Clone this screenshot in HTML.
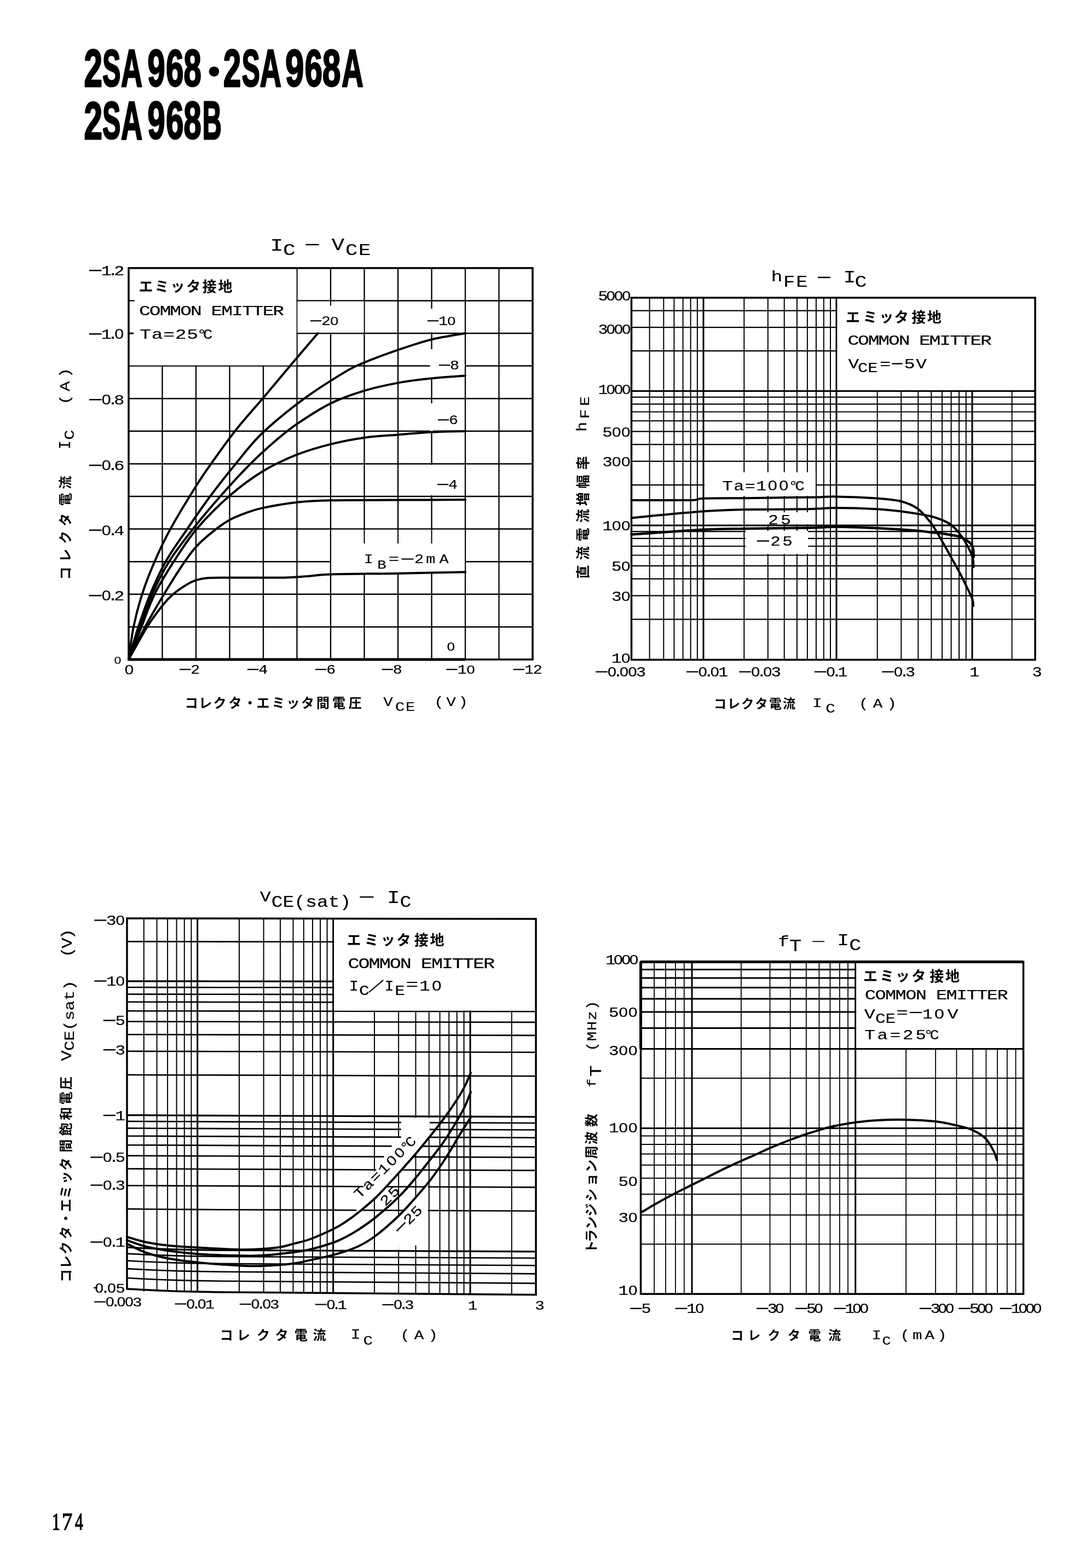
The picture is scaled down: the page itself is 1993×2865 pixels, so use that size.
<!DOCTYPE html>
<html><head><meta charset="utf-8"><title>2SA968</title>
<style>html,body{margin:0;padding:0;background:#fff}svg{display:block;filter:grayscale(1)}text{fill:#000}</style></head>
<body><svg width="1993" height="2865" viewBox="0 0 1993 2865">
<rect width="1993" height="2865" fill="#fff"/>
<text transform="translate(153.4,158.2) scale(0.601,0.958)" font-family="Liberation Sans" font-size="100" font-weight="bold" stroke="#000" stroke-width="2.5" vector-effect="non-scaling-stroke" stroke-linejoin="round">2</text>
<text transform="translate(187.2,157.3) scale(0.495,0.945)" font-family="Liberation Sans" font-size="100" font-weight="bold" stroke="#000" stroke-width="2.5" vector-effect="non-scaling-stroke" stroke-linejoin="round">S</text>
<text transform="translate(221.1,158.2) scale(0.542,0.972)" font-family="Liberation Sans" font-size="100" font-weight="bold" stroke="#000" stroke-width="2.5" vector-effect="non-scaling-stroke" stroke-linejoin="round">A</text>
<text transform="translate(269.5,157.3) scale(0.577,0.945)" font-family="Liberation Sans" font-size="100" font-weight="bold" stroke="#000" stroke-width="2.5" vector-effect="non-scaling-stroke" stroke-linejoin="round">9</text>
<text transform="translate(303.2,157.3) scale(0.578,0.945)" font-family="Liberation Sans" font-size="100" font-weight="bold" stroke="#000" stroke-width="2.5" vector-effect="non-scaling-stroke" stroke-linejoin="round">6</text>
<text transform="translate(335.6,157.3) scale(0.58,0.945)" font-family="Liberation Sans" font-size="100" font-weight="bold" stroke="#000" stroke-width="2.5" vector-effect="non-scaling-stroke" stroke-linejoin="round">8</text>
<text transform="translate(408.1,158.2) scale(0.58,0.958)" font-family="Liberation Sans" font-size="100" font-weight="bold" stroke="#000" stroke-width="2.5" vector-effect="non-scaling-stroke" stroke-linejoin="round">2</text>
<text transform="translate(441.8,157.3) scale(0.495,0.945)" font-family="Liberation Sans" font-size="100" font-weight="bold" stroke="#000" stroke-width="2.5" vector-effect="non-scaling-stroke" stroke-linejoin="round">S</text>
<text transform="translate(474.7,158.2) scale(0.542,0.972)" font-family="Liberation Sans" font-size="100" font-weight="bold" stroke="#000" stroke-width="2.5" vector-effect="non-scaling-stroke" stroke-linejoin="round">A</text>
<text transform="translate(521.3,157.3) scale(0.612,0.945)" font-family="Liberation Sans" font-size="100" font-weight="bold" stroke="#000" stroke-width="2.5" vector-effect="non-scaling-stroke" stroke-linejoin="round">9</text>
<text transform="translate(556.8,157.3) scale(0.578,0.945)" font-family="Liberation Sans" font-size="100" font-weight="bold" stroke="#000" stroke-width="2.5" vector-effect="non-scaling-stroke" stroke-linejoin="round">6</text>
<text transform="translate(589.1,157.3) scale(0.6,0.945)" font-family="Liberation Sans" font-size="100" font-weight="bold" stroke="#000" stroke-width="2.5" vector-effect="non-scaling-stroke" stroke-linejoin="round">8</text>
<text transform="translate(624.2,158.2) scale(0.547,0.972)" font-family="Liberation Sans" font-size="100" font-weight="bold" stroke="#000" stroke-width="2.5" vector-effect="non-scaling-stroke" stroke-linejoin="round">A</text>
<circle cx="391" cy="130.7" r="9.3" fill="#000"/>
<text transform="translate(153.4,253.9) scale(0.601,0.972)" font-family="Liberation Sans" font-size="100" font-weight="bold" stroke="#000" stroke-width="2.5" vector-effect="non-scaling-stroke" stroke-linejoin="round">2</text>
<text transform="translate(187.2,253) scale(0.495,0.959)" font-family="Liberation Sans" font-size="100" font-weight="bold" stroke="#000" stroke-width="2.5" vector-effect="non-scaling-stroke" stroke-linejoin="round">S</text>
<text transform="translate(221.1,253.9) scale(0.542,0.987)" font-family="Liberation Sans" font-size="100" font-weight="bold" stroke="#000" stroke-width="2.5" vector-effect="non-scaling-stroke" stroke-linejoin="round">A</text>
<text transform="translate(269.5,253) scale(0.577,0.959)" font-family="Liberation Sans" font-size="100" font-weight="bold" stroke="#000" stroke-width="2.5" vector-effect="non-scaling-stroke" stroke-linejoin="round">9</text>
<text transform="translate(303.2,253) scale(0.578,0.959)" font-family="Liberation Sans" font-size="100" font-weight="bold" stroke="#000" stroke-width="2.5" vector-effect="non-scaling-stroke" stroke-linejoin="round">6</text>
<text transform="translate(335.6,253) scale(0.58,0.959)" font-family="Liberation Sans" font-size="100" font-weight="bold" stroke="#000" stroke-width="2.5" vector-effect="non-scaling-stroke" stroke-linejoin="round">8</text>
<text transform="translate(369.7,253.9) scale(0.486,0.987)" font-family="Liberation Sans" font-size="100" font-weight="bold" stroke="#000" stroke-width="2.5" vector-effect="non-scaling-stroke" stroke-linejoin="round">B</text>
<text transform="translate(94.8,2795.1) scale(0.304,0.445)" font-family="Liberation Serif" font-size="100" stroke="#000" stroke-width="1.2" vector-effect="non-scaling-stroke" stroke-linejoin="round">1</text>
<text transform="translate(113.1,2795.1) scale(0.387,0.449)" font-family="Liberation Serif" font-size="100" stroke="#000" stroke-width="1.2" vector-effect="non-scaling-stroke" stroke-linejoin="round">7</text>
<text transform="translate(137,2795.1) scale(0.297,0.447)" font-family="Liberation Serif" font-size="100" stroke="#000" stroke-width="1.2" vector-effect="non-scaling-stroke" stroke-linejoin="round">4</text>
<line x1="296.5" y1="489.8" x2="296.5" y2="1205" stroke="#000" stroke-width="2.3"/>
<line x1="235" y1="1145.4" x2="973" y2="1145.4" stroke="#000" stroke-width="2.5"/>
<line x1="358" y1="489.8" x2="358" y2="1205" stroke="#000" stroke-width="2.3"/>
<line x1="235" y1="1085.8" x2="973" y2="1085.8" stroke="#000" stroke-width="2.5"/>
<line x1="419.5" y1="489.8" x2="419.5" y2="1205" stroke="#000" stroke-width="2.3"/>
<line x1="235" y1="1026.2" x2="973" y2="1026.2" stroke="#000" stroke-width="2.5"/>
<line x1="481" y1="489.8" x2="481" y2="1205" stroke="#000" stroke-width="2.3"/>
<line x1="235" y1="966.6" x2="973" y2="966.6" stroke="#000" stroke-width="2.5"/>
<line x1="542.5" y1="489.8" x2="542.5" y2="1205" stroke="#000" stroke-width="2.3"/>
<line x1="235" y1="907" x2="973" y2="907" stroke="#000" stroke-width="2.5"/>
<line x1="604" y1="489.8" x2="604" y2="1205" stroke="#000" stroke-width="2.3"/>
<line x1="235" y1="847.4" x2="973" y2="847.4" stroke="#000" stroke-width="2.5"/>
<line x1="665.5" y1="489.8" x2="665.5" y2="1205" stroke="#000" stroke-width="2.3"/>
<line x1="235" y1="787.8" x2="973" y2="787.8" stroke="#000" stroke-width="2.5"/>
<line x1="727" y1="489.8" x2="727" y2="1205" stroke="#000" stroke-width="2.3"/>
<line x1="235" y1="728.2" x2="973" y2="728.2" stroke="#000" stroke-width="2.5"/>
<line x1="788.5" y1="489.8" x2="788.5" y2="1205" stroke="#000" stroke-width="2.3"/>
<line x1="235" y1="668.6" x2="973" y2="668.6" stroke="#000" stroke-width="2.5"/>
<line x1="850" y1="489.8" x2="850" y2="1205" stroke="#000" stroke-width="2.3"/>
<line x1="235" y1="609" x2="973" y2="609" stroke="#000" stroke-width="2.5"/>
<line x1="911.5" y1="489.8" x2="911.5" y2="1205" stroke="#000" stroke-width="2.3"/>
<line x1="235" y1="549.4" x2="973" y2="549.4" stroke="#000" stroke-width="2.5"/>
<rect x="235" y="489.8" width="306.5" height="177.8" fill="#fff"/>
<rect x="543.5" y="550.6" width="121" height="57.2" fill="#fff"/>
<line x1="604" y1="549.4" x2="604" y2="558.4" stroke="#000" stroke-width="2"/>
<rect x="785.5" y="564" width="6" height="43" fill="#fff"/>
<rect x="785.5" y="638" width="6" height="54" fill="#fff"/>
<rect x="789.5" y="665.6" width="59.5" height="6" fill="#fff"/>
<rect x="785.5" y="737" width="6" height="51" fill="#fff"/>
<rect x="785.5" y="849.4" width="6" height="55.6" fill="#fff"/>
<rect x="605" y="967.8" width="244" height="79.2" fill="#fff"/>
<line x1="665.5" y1="966.6" x2="665.5" y2="993" stroke="#000" stroke-width="2"/>
<line x1="727" y1="966.6" x2="727" y2="993" stroke="#000" stroke-width="2"/>
<line x1="788.5" y1="966.6" x2="788.5" y2="993" stroke="#000" stroke-width="2"/>
<rect x="235" y="489.8" width="738" height="715.2" fill="none" stroke="#000" stroke-width="3.5"/>
<line x1="235" y1="1205" x2="850" y2="1205" stroke="#000" stroke-width="5"/>
<line x1="235" y1="549.4" x2="246" y2="549.4" stroke="#000" stroke-width="2.2"/>
<line x1="235" y1="609" x2="244" y2="609" stroke="#000" stroke-width="3"/>
<path d="M235,1205C236.5,1195.1 239.9,1165.3 244,1145.4C248.1,1125.5 253.2,1105.7 259.6,1085.8C266,1065.9 273.7,1046.1 282.4,1026.2C291,1006.3 298.9,989.2 311.3,966.6C323.7,944 344.2,910.5 356.8,890.3C369.4,870.1 374.6,863 386.9,845.6C399.2,828.2 415.1,805.6 430.6,786C446,766.4 462.5,748.6 479.8,728.2C497,707.8 517.1,683.7 533.9,663.8C550.7,644 572.8,618.1 580.6,609" fill="none" stroke="#000" stroke-width="4" stroke-linecap="round" stroke-linejoin="round"/>
<path d="M235,1205C238,1195.1 246.3,1165.3 252.8,1145.4C259.4,1125.5 266.1,1105.7 274.4,1085.8C282.7,1065.9 291.4,1046.1 302.6,1026.2C313.9,1006.3 328.5,986.5 342,966.6C355.5,946.7 369.1,926.9 383.8,907C398.6,887.1 414.6,866.8 430.6,847.4C446.6,828 458.9,810.6 479.8,790.8C500.7,770.9 531,746.7 556,728.2C581,709.7 611.7,690.9 629.8,679.9C648,669 648.7,669.4 664.9,662.6C681.1,655.9 706.4,646.4 727,639.4C747.6,632.3 768,625.4 788.5,620.3C809,615.3 839.8,610.9 850,609" fill="none" stroke="#000" stroke-width="4" stroke-linecap="round" stroke-linejoin="round"/>
<path d="M235,1205C238.6,1195.1 249.3,1165.3 256.5,1145.4C263.7,1125.5 269.3,1105.7 278.1,1085.8C286.8,1065.9 296.4,1046.1 308.8,1026.2C321.2,1006.3 336.9,986.5 352.5,966.6C368,946.7 385,926.7 402.3,907C419.6,887.3 440.2,865 456.4,848.6C472.6,832.2 485.1,821 499.4,808.7C513.8,796.3 525.1,786.6 542.5,774.7C559.9,762.8 583.5,747.3 604,737.1C624.5,727 645,720.2 665.5,713.9C686,707.6 706.5,703.4 727,699.6C747.5,695.8 768,693.4 788.5,691.2C809,689.1 839.8,687.3 850,686.5" fill="none" stroke="#000" stroke-width="4" stroke-linecap="round" stroke-linejoin="round"/>
<path d="M235,1205C238.9,1195.1 250.5,1165.3 258.4,1145.4C266.3,1125.5 272.5,1105.7 282.4,1085.8C292.2,1065.9 304.6,1046.1 317.4,1026.2C330.2,1006.3 342.2,986.7 359.2,966.6C376.2,946.5 399.2,923.5 419.5,905.8C439.8,888.1 460.5,873 481,860.5C501.5,848 522,838.9 542.5,830.7C563,822.6 583.5,816.8 604,811.6C624.5,806.5 645,802.6 665.5,799.7C686,796.8 706.5,796 727,794.4C747.5,792.7 768,790.7 788.5,789.6C809,788.5 839.8,788.1 850,787.8" fill="none" stroke="#000" stroke-width="4" stroke-linecap="round" stroke-linejoin="round"/>
<path d="M235,1205C240,1195.1 254.4,1165.3 265.1,1145.4C275.9,1125.5 288.2,1104.7 299.6,1085.8C311,1066.9 323.7,1046.6 333.4,1032.2C343.1,1017.8 348.8,1009.5 358,999.4C367.2,989.2 378.5,979.6 388.8,971.4C399,963.1 409.2,955.7 419.5,949.9C429.8,944.2 440,940.5 450.2,936.8C460.5,933.1 465.6,931 481,927.9C496.4,924.7 522,920 542.5,917.7C563,915.4 573.2,914.8 604,914.2C634.8,913.5 686,913.8 727,913.6C768,913.4 829.5,913.1 850,913" fill="none" stroke="#000" stroke-width="4" stroke-linecap="round" stroke-linejoin="round"/>
<path d="M235,1205C240.6,1195.1 258.6,1161.8 268.8,1145.4C279.1,1129 288.6,1116.6 296.5,1106.7C304.4,1096.7 309,1092.1 316.2,1085.8C323.4,1079.5 332.6,1073.4 339.6,1069.1C346.5,1064.8 351.3,1062.4 358,1060.2C364.7,1058 369.3,1056.8 379.5,1056C389.8,1055.2 396.4,1055.5 419.5,1055.4C442.6,1055.3 494.3,1055.8 517.9,1055.4C541.5,1055 546.6,1054 561,1053C575.3,1052 576.3,1050.3 604,1049.4C631.7,1048.5 686,1048.4 727,1047.7C768,1047 829.5,1045.7 850,1045.3" fill="none" stroke="#000" stroke-width="4" stroke-linecap="round" stroke-linejoin="round"/>
<g transform="translate(495,458)"><text transform="scale(1.25,1)" x="8.4" y="0" font-family="Liberation Mono" font-size="31.9" text-anchor="middle" stroke="#000" stroke-width="0.2">I</text></g>
<g transform="translate(517,465.5)"><text transform="scale(1.25,1)" x="9.2" y="0" font-family="Liberation Mono" font-size="30.3" text-anchor="middle" stroke="#000" stroke-width="0.2">C</text></g>
<line x1="558.5" y1="447" x2="582.6" y2="447" stroke="#000" stroke-width="2.4"/>
<g transform="translate(606,457)"><text transform="scale(1.25,1)" x="9.2" y="0" font-family="Liberation Mono" font-size="31.1" text-anchor="middle" stroke="#000" stroke-width="0.2">V</text></g>
<g transform="translate(630,465.5)"><text transform="scale(1.25,1)" x="9.6 28.8" y="0" font-family="Liberation Mono" font-size="29.6" text-anchor="middle" stroke="#000" stroke-width="0.2">CE</text></g>
<g transform="translate(252,536)"><text x="1.5 30.5 59.5 88.5 117.5 146.5" y="-3.1" font-family="'Liberation Sans','Noto Sans CJK JP',sans-serif" font-size="26" font-weight="bold">エミッタ接地</text></g>
<g transform="translate(255,576)"><text transform="scale(1.3,1)" x="7.2 21.7 36.2 50.6 65.1 79.5 108.5 122.9 137.4 151.8 166.3 180.8 195.2" y="0" font-family="Liberation Mono" font-size="26.7" text-anchor="middle" stroke="#000" stroke-width="0.2">COMMONEMITTER</text></g>
<g transform="translate(255,619)"><text transform="scale(1.3,1)" x="8.3 24.8 41.3 57.9 74.4" y="0" font-family="Liberation Mono" font-size="26.7" text-anchor="middle" stroke="#000" stroke-width="0.2">Ta=25</text></g>
<g transform="translate(363,619)"><text transform="scale(1.1,1)" x="5 15" y="0" font-family="Liberation Mono" font-size="26.7" text-anchor="middle" stroke="#000" stroke-width="0.2">°C</text></g>
<g transform="translate(226,503)"><line x1="-63.2" y1="-8.8" x2="-40.4" y2="-8.8" stroke="#000" stroke-width="2.5"/><text transform="scale(1.2,1)" x="-26.4 -16.6 -6.9" y="0" font-family="Liberation Mono" font-size="26.6" text-anchor="middle" stroke="#000" stroke-width="0.2">1.2</text></g>
<g transform="translate(226,619)"><line x1="-63.2" y1="-8.8" x2="-40.4" y2="-8.8" stroke="#000" stroke-width="2.5"/><text transform="scale(1.2,1)" x="-26.4 -16.6" y="0" font-family="Liberation Mono" font-size="26.6" text-anchor="middle" stroke="#000" stroke-width="0.2">1.</text><text transform="scale(1.2,1)" x="-6.9" y="0" font-family="Liberation Sans" font-size="25.4" text-anchor="middle" stroke="#000" stroke-width="0.2">0</text></g>
<g transform="translate(226,739)"><line x1="-63.2" y1="-8.8" x2="-40.4" y2="-8.8" stroke="#000" stroke-width="2.5"/><text transform="scale(1.2,1)" x="-16.6 -6.9" y="0" font-family="Liberation Mono" font-size="26.6" text-anchor="middle" stroke="#000" stroke-width="0.2">.8</text><text transform="scale(1.2,1)" x="-26.4" y="0" font-family="Liberation Sans" font-size="25.4" text-anchor="middle" stroke="#000" stroke-width="0.2">0</text></g>
<g transform="translate(226,859)"><line x1="-63.2" y1="-8.8" x2="-40.4" y2="-8.8" stroke="#000" stroke-width="2.5"/><text transform="scale(1.2,1)" x="-16.6 -6.9" y="0" font-family="Liberation Mono" font-size="26.6" text-anchor="middle" stroke="#000" stroke-width="0.2">.6</text><text transform="scale(1.2,1)" x="-26.4" y="0" font-family="Liberation Sans" font-size="25.4" text-anchor="middle" stroke="#000" stroke-width="0.2">0</text></g>
<g transform="translate(226,977.5)"><line x1="-63.2" y1="-8.8" x2="-40.4" y2="-8.8" stroke="#000" stroke-width="2.5"/><text transform="scale(1.2,1)" x="-16.6 -6.9" y="0" font-family="Liberation Mono" font-size="26.6" text-anchor="middle" stroke="#000" stroke-width="0.2">.4</text><text transform="scale(1.2,1)" x="-26.4" y="0" font-family="Liberation Sans" font-size="25.4" text-anchor="middle" stroke="#000" stroke-width="0.2">0</text></g>
<g transform="translate(226,1097)"><line x1="-63.2" y1="-8.8" x2="-40.4" y2="-8.8" stroke="#000" stroke-width="2.5"/><text transform="scale(1.2,1)" x="-16.6 -6.9" y="0" font-family="Liberation Mono" font-size="26.6" text-anchor="middle" stroke="#000" stroke-width="0.2">.2</text><text transform="scale(1.2,1)" x="-26.4" y="0" font-family="Liberation Sans" font-size="25.4" text-anchor="middle" stroke="#000" stroke-width="0.2">0</text></g>
<g transform="translate(215,1213)"><text transform="scale(1.2,1)" x="0" y="0" font-family="Liberation Sans" font-size="18.8" text-anchor="middle" stroke="#000" stroke-width="0.2">0</text></g>
<g transform="translate(236,1232)"><text transform="scale(1.2,1)" x="0" y="0" font-family="Liberation Sans" font-size="24.6" text-anchor="middle" stroke="#000" stroke-width="0.2">0</text></g>
<g transform="translate(346,1231)"><line x1="-18" y1="-7.8" x2="2.4" y2="-7.8" stroke="#000" stroke-width="2.2"/><text transform="scale(1.2,1)" x="9" y="0" font-family="Liberation Mono" font-size="23.5" text-anchor="middle" stroke="#000" stroke-width="0.2">2</text></g>
<g transform="translate(470,1231)"><line x1="-18" y1="-7.8" x2="2.4" y2="-7.8" stroke="#000" stroke-width="2.2"/><text transform="scale(1.2,1)" x="9" y="0" font-family="Liberation Mono" font-size="23.5" text-anchor="middle" stroke="#000" stroke-width="0.2">4</text></g>
<g transform="translate(594,1231)"><line x1="-18" y1="-7.8" x2="2.4" y2="-7.8" stroke="#000" stroke-width="2.2"/><text transform="scale(1.2,1)" x="9" y="0" font-family="Liberation Mono" font-size="23.5" text-anchor="middle" stroke="#000" stroke-width="0.2">6</text></g>
<g transform="translate(715.5,1231)"><line x1="-18" y1="-7.8" x2="2.4" y2="-7.8" stroke="#000" stroke-width="2.2"/><text transform="scale(1.2,1)" x="9" y="0" font-family="Liberation Mono" font-size="23.5" text-anchor="middle" stroke="#000" stroke-width="0.2">8</text></g>
<g transform="translate(841.3,1231)"><line x1="-26" y1="-7.8" x2="-5.6" y2="-7.8" stroke="#000" stroke-width="2.2"/><text transform="scale(1.2,1)" x="2.4" y="0" font-family="Liberation Mono" font-size="23.5" text-anchor="middle" stroke="#000" stroke-width="0.2">1</text><text transform="scale(1.2,1)" x="15.7" y="0" font-family="Liberation Sans" font-size="22.5" text-anchor="middle" stroke="#000" stroke-width="0.2">0</text></g>
<g transform="translate(963.5,1231)"><line x1="-26" y1="-7.8" x2="-5.6" y2="-7.8" stroke="#000" stroke-width="2.2"/><text transform="scale(1.2,1)" x="2.4 15.7" y="0" font-family="Liberation Mono" font-size="23.5" text-anchor="middle" stroke="#000" stroke-width="0.2">12</text></g>
<g transform="translate(336,1296)"><text x="1.8 27.2 53.5 81.6 108.7 132.4 160.5 187.6 213.9 242 271 300.8" y="-2.9" font-family="'Liberation Sans','Noto Sans CJK JP',sans-serif" font-size="24" font-weight="bold">コレクタ・エミッタ間電圧</text></g>
<g transform="translate(709,1290.3)"><text transform="scale(1.2,1)" x="0" y="0" font-family="Liberation Mono" font-size="24.3" text-anchor="middle" stroke="#000" stroke-width="0.2">V</text></g>
<g transform="translate(721,1299)"><text transform="scale(1.2,1)" x="7.9 23.8" y="0" font-family="Liberation Mono" font-size="23.8" text-anchor="middle" stroke="#000" stroke-width="0.2">CE</text></g>
<g transform="translate(791,1290.3)"><text transform="scale(1.2,1)" x="9.2 27.5 45.8" y="0" font-family="Liberation Mono" font-size="24.3" text-anchor="middle" stroke="#000" stroke-width="0.2">(V)</text></g>
<g transform="translate(131,1060) rotate(-90)"><text x="0.5 33.3 66.3 98.2 135.5 166.3" y="-2.9" font-family="'Liberation Sans','Noto Sans CJK JP',sans-serif" font-size="24" font-weight="bold">コレクタ電流</text></g>
<g transform="translate(128,813) rotate(-90)"><text transform="scale(0.85,1)" x="0" y="0" font-family="Liberation Mono" font-size="30.3" text-anchor="middle" stroke="#000" stroke-width="0.2">I</text></g>
<g transform="translate(134.5,794.4) rotate(-90)"><text transform="scale(1.2,1)" x="0" y="0" font-family="Liberation Mono" font-size="25.8" text-anchor="middle" stroke="#000" stroke-width="0.2">C</text></g>
<g transform="translate(126.5,742.5) rotate(-90)"><text transform="scale(1.2,1)" x="10.2 30.6 51" y="0" font-family="Liberation Mono" font-size="25.8" text-anchor="middle" stroke="#000" stroke-width="0.2">(A)</text></g>
<g transform="translate(566,594)"><line x1="0.9" y1="-7.8" x2="21.2" y2="-7.8" stroke="#000" stroke-width="2.2"/><text transform="scale(1.2,1)" x="24.5" y="0" font-family="Liberation Mono" font-size="23.5" text-anchor="middle" stroke="#000" stroke-width="0.2">2</text><text transform="scale(1.2,1)" x="37.4" y="0" font-family="Liberation Sans" font-size="22.5" text-anchor="middle" stroke="#000" stroke-width="0.2">0</text></g>
<g transform="translate(780,594)"><line x1="0.9" y1="-7.8" x2="21.2" y2="-7.8" stroke="#000" stroke-width="2.2"/><text transform="scale(1.2,1)" x="24.5" y="0" font-family="Liberation Mono" font-size="23.5" text-anchor="middle" stroke="#000" stroke-width="0.2">1</text><text transform="scale(1.2,1)" x="37.4" y="0" font-family="Liberation Sans" font-size="22.5" text-anchor="middle" stroke="#000" stroke-width="0.2">0</text></g>
<g transform="translate(801,675)"><line x1="0.9" y1="-7.8" x2="21.2" y2="-7.8" stroke="#000" stroke-width="2.2"/><text transform="scale(1.2,1)" x="24.5" y="0" font-family="Liberation Mono" font-size="23.5" text-anchor="middle" stroke="#000" stroke-width="0.2">8</text></g>
<g transform="translate(799,775)"><line x1="0.9" y1="-7.8" x2="21.2" y2="-7.8" stroke="#000" stroke-width="2.2"/><text transform="scale(1.2,1)" x="24.5" y="0" font-family="Liberation Mono" font-size="23.5" text-anchor="middle" stroke="#000" stroke-width="0.2">6</text></g>
<g transform="translate(798,893)"><line x1="0.9" y1="-7.8" x2="21.2" y2="-7.8" stroke="#000" stroke-width="2.2"/><text transform="scale(1.2,1)" x="24.5" y="0" font-family="Liberation Mono" font-size="23.5" text-anchor="middle" stroke="#000" stroke-width="0.2">4</text></g>
<g transform="translate(816,1189)"><text transform="scale(1.2,1)" x="6.5" y="0" font-family="Liberation Sans" font-size="21.7" text-anchor="middle" stroke="#000" stroke-width="0.2">0</text></g>
<g transform="translate(673.3,1029.4)"><text transform="scale(1.2,1)" x="0" y="0" font-family="Liberation Mono" font-size="23.7" text-anchor="middle" stroke="#000" stroke-width="0.2">I</text></g>
<g transform="translate(697.5,1038.8)"><text transform="scale(1.2,1)" x="0" y="0" font-family="Liberation Mono" font-size="22.8" text-anchor="middle" stroke="#000" stroke-width="0.2">B</text></g>
<g transform="translate(719.4,1029.4)"><text transform="scale(1.4,1)" x="0" y="0" font-family="Liberation Mono" font-size="23.7" text-anchor="middle" stroke="#000" stroke-width="0.1">=</text></g>
<line x1="733.5" y1="1021.5" x2="755.4" y2="1021.5" stroke="#000" stroke-width="2.2"/>
<g transform="translate(765.6,1029.4)"><text transform="scale(1.2,1)" x="0" y="0" font-family="Liberation Mono" font-size="23.7" text-anchor="middle" stroke="#000" stroke-width="0.2">2</text></g>
<g transform="translate(786.7,1029.4)"><text transform="scale(1.2,1)" x="0" y="0" font-family="Liberation Mono" font-size="23.7" text-anchor="middle" stroke="#000" stroke-width="0.2">m</text></g>
<g transform="translate(811,1029.4)"><text transform="scale(1.2,1)" x="0" y="0" font-family="Liberation Mono" font-size="23.7" text-anchor="middle" stroke="#000" stroke-width="0.2">A</text></g>
<line x1="1186.6" y1="544" x2="1186.6" y2="1205.5" stroke="#000" stroke-width="2"/>
<line x1="1212.3" y1="544" x2="1212.3" y2="1205.5" stroke="#000" stroke-width="2"/>
<line x1="1231.4" y1="544" x2="1231.4" y2="1205.5" stroke="#000" stroke-width="2"/>
<line x1="1247.6" y1="544" x2="1247.6" y2="1205.5" stroke="#000" stroke-width="2"/>
<line x1="1261.6" y1="544" x2="1261.6" y2="1205.5" stroke="#000" stroke-width="2"/>
<line x1="1273.9" y1="544" x2="1273.9" y2="1205.5" stroke="#000" stroke-width="2"/>
<line x1="1285" y1="544" x2="1285" y2="1205.5" stroke="#000" stroke-width="3"/>
<line x1="1359.3" y1="544" x2="1359.3" y2="1205.5" stroke="#000" stroke-width="2"/>
<line x1="1402.8" y1="544" x2="1402.8" y2="1205.5" stroke="#000" stroke-width="2"/>
<line x1="1432.7" y1="544" x2="1432.7" y2="1205.5" stroke="#000" stroke-width="2"/>
<line x1="1455.9" y1="544" x2="1455.9" y2="1205.5" stroke="#000" stroke-width="2"/>
<line x1="1474.9" y1="544" x2="1474.9" y2="1205.5" stroke="#000" stroke-width="2"/>
<line x1="1490.9" y1="544" x2="1490.9" y2="1205.5" stroke="#000" stroke-width="2"/>
<line x1="1504.8" y1="544" x2="1504.8" y2="1205.5" stroke="#000" stroke-width="2"/>
<line x1="1517" y1="544" x2="1517" y2="1205.5" stroke="#000" stroke-width="2"/>
<line x1="1528" y1="544" x2="1528" y2="1205.5" stroke="#000" stroke-width="3"/>
<line x1="1602.7" y1="544" x2="1602.7" y2="1205.5" stroke="#000" stroke-width="2"/>
<line x1="1646.3" y1="544" x2="1646.3" y2="1205.5" stroke="#000" stroke-width="2"/>
<line x1="1677.3" y1="544" x2="1677.3" y2="1205.5" stroke="#000" stroke-width="2"/>
<line x1="1701.3" y1="544" x2="1701.3" y2="1205.5" stroke="#000" stroke-width="2"/>
<line x1="1721" y1="544" x2="1721" y2="1205.5" stroke="#000" stroke-width="2"/>
<line x1="1737.6" y1="544" x2="1737.6" y2="1205.5" stroke="#000" stroke-width="2"/>
<line x1="1752" y1="544" x2="1752" y2="1205.5" stroke="#000" stroke-width="2"/>
<line x1="1764.7" y1="544" x2="1764.7" y2="1205.5" stroke="#000" stroke-width="2"/>
<line x1="1776" y1="544" x2="1776" y2="1205.5" stroke="#000" stroke-width="3"/>
<line x1="1848.6" y1="544" x2="1848.6" y2="1205.5" stroke="#000" stroke-width="2"/>
<line x1="1153.5" y1="1131.6" x2="1891" y2="1131.6" stroke="#000" stroke-width="2.2"/>
<line x1="1153.5" y1="1088.4" x2="1891" y2="1088.4" stroke="#000" stroke-width="2.2"/>
<line x1="1153.5" y1="1057.7" x2="1891" y2="1057.7" stroke="#000" stroke-width="2.2"/>
<line x1="1153.5" y1="1033.9" x2="1891" y2="1033.9" stroke="#000" stroke-width="2.2"/>
<line x1="1153.5" y1="1014.5" x2="1891" y2="1014.5" stroke="#000" stroke-width="2.2"/>
<line x1="1153.5" y1="998" x2="1891" y2="998" stroke="#000" stroke-width="2.2"/>
<line x1="1153.5" y1="983.8" x2="1891" y2="983.8" stroke="#000" stroke-width="2.2"/>
<line x1="1153.5" y1="971.2" x2="1891" y2="971.2" stroke="#000" stroke-width="2.2"/>
<line x1="1153.5" y1="960" x2="1891" y2="960" stroke="#000" stroke-width="3"/>
<line x1="1153.5" y1="886.1" x2="1891" y2="886.1" stroke="#000" stroke-width="2.2"/>
<line x1="1153.5" y1="842.9" x2="1891" y2="842.9" stroke="#000" stroke-width="2.2"/>
<line x1="1153.5" y1="812.2" x2="1891" y2="812.2" stroke="#000" stroke-width="2.2"/>
<line x1="1153.5" y1="788.4" x2="1891" y2="788.4" stroke="#000" stroke-width="2.2"/>
<line x1="1153.5" y1="769" x2="1891" y2="769" stroke="#000" stroke-width="2.2"/>
<line x1="1153.5" y1="752.5" x2="1891" y2="752.5" stroke="#000" stroke-width="2.2"/>
<line x1="1153.5" y1="738.3" x2="1891" y2="738.3" stroke="#000" stroke-width="2.2"/>
<line x1="1153.5" y1="725.7" x2="1891" y2="725.7" stroke="#000" stroke-width="2.2"/>
<line x1="1153.5" y1="714.5" x2="1891" y2="714.5" stroke="#000" stroke-width="3"/>
<line x1="1153.5" y1="641.1" x2="1891" y2="641.1" stroke="#000" stroke-width="2.2"/>
<line x1="1153.5" y1="598.1" x2="1891" y2="598.1" stroke="#000" stroke-width="2.2"/>
<line x1="1153.5" y1="567.6" x2="1891" y2="567.6" stroke="#000" stroke-width="2.2"/>
<rect x="1529.5" y="544" width="361.5" height="169" fill="#fff"/>
<rect x="1287" y="863" width="203" height="43" fill="#fff"/>
<rect x="1362" y="936" width="114" height="22" fill="#fff"/>
<rect x="1362" y="970" width="114" height="42" fill="#fff"/>
<rect x="1153.5" y="544" width="737.5" height="661.5" fill="none" stroke="#000" stroke-width="3.5"/>
<path d="M1153.5,913.9C1171.5,913.9 1239.6,914.4 1261.5,913.9C1283.4,913.4 1268.4,911.4 1285,910.8C1301.6,910.2 1334.7,910.5 1361.1,910.2C1387.4,909.9 1421.6,909.2 1443.1,908.9C1464.6,908.7 1475.9,908.9 1490.1,908.6C1504.2,908.3 1509.3,907.1 1527.8,907.4C1546.3,907.7 1581.7,909.1 1601.3,910.5C1620.8,911.8 1632.6,912.5 1645.1,915.7C1657.7,918.9 1667.3,922.9 1676.6,929.6C1685.9,936.3 1693.5,946.3 1700.7,955.8C1707.9,965.4 1713.7,976.4 1719.8,986.7C1725.9,997 1731.7,1007.8 1737.1,1017.6C1742.6,1027.4 1747.9,1036.6 1752.5,1045.4C1757.2,1054.1 1760.9,1061.8 1764.9,1070.1C1768.9,1078.3 1774.2,1088.6 1776.3,1094.8C1778.5,1101 1777.6,1105.1 1777.9,1107.1" fill="none" stroke="#000" stroke-width="4" stroke-linecap="round" stroke-linejoin="round"/>
<path d="M1153.5,946.2C1175.4,944.2 1250.4,936.8 1285,934.3C1319.6,931.8 1329.5,931.8 1361.1,931.1C1392.6,930.5 1446.6,930.7 1474.4,930.2C1502.2,929.7 1506.6,928.1 1527.8,928.1C1548.9,928.1 1581.7,929.2 1601.3,930.2C1620.8,931.2 1632.6,932.8 1645.1,934.2C1657.7,935.7 1667.3,937.3 1676.6,938.9C1685.9,940.4 1693.5,941.7 1700.7,943.5C1707.9,945.3 1713.7,947.1 1719.8,949.7C1725.9,952.2 1731.7,954.8 1737.1,958.9C1742.6,963 1747.9,968.7 1752.5,974.4C1757.2,980 1760.9,985.7 1764.9,992.9C1768.9,1000.1 1774.1,1010.4 1776.3,1017.6C1778.6,1024.8 1778.1,1033 1778.5,1036.1" fill="none" stroke="#000" stroke-width="4" stroke-linecap="round" stroke-linejoin="round"/>
<path d="M1153.5,976.5C1175.4,975.1 1250.4,969.6 1285,967.8C1319.6,966 1329.5,966.4 1361.1,965.9C1392.6,965.4 1446.6,965.2 1474.4,964.6C1502.2,964.1 1506.6,962.6 1527.8,962.6C1548.9,962.7 1576.5,963.9 1601.3,965.1C1626.1,966.3 1660,968.5 1676.6,969.7C1693.2,971 1693.5,972.1 1700.7,972.8C1707.9,973.6 1713.7,973.6 1719.8,974.4C1725.9,975.1 1731.7,976.4 1737.1,977.5C1742.6,978.5 1747.9,979 1752.5,980.5C1757.2,982.1 1760.9,983.9 1764.9,986.7C1768.9,989.5 1774,992.4 1776.3,997.5C1778.6,1002.7 1778.4,1014.2 1778.8,1017.6" fill="none" stroke="#000" stroke-width="4.5" stroke-linecap="round" stroke-linejoin="round"/>
<g transform="translate(1419,514.4)"><text transform="scale(1.2,1)" x="0" y="0" font-family="Liberation Mono" font-size="28.4" text-anchor="middle" stroke="#000" stroke-width="0.2">h</text></g>
<g transform="translate(1441.6,524.1)"><text transform="scale(1.2,1)" x="0" y="0" font-family="Liberation Mono" font-size="29.3" text-anchor="middle" stroke="#000" stroke-width="0.2">F</text></g>
<g transform="translate(1464.7,524.1)"><text transform="scale(1.2,1)" x="0" y="0" font-family="Liberation Mono" font-size="29.3" text-anchor="middle" stroke="#000" stroke-width="0.2">E</text></g>
<line x1="1494" y1="506.9" x2="1516.7" y2="506.9" stroke="#000" stroke-width="2.6"/>
<g transform="translate(1551.9,515.8)"><text transform="scale(1.2,1)" x="0" y="0" font-family="Liberation Mono" font-size="31.3" text-anchor="middle" stroke="#000" stroke-width="0.2">I</text></g>
<g transform="translate(1572.5,524.1)"><text transform="scale(1.2,1)" x="0" y="0" font-family="Liberation Mono" font-size="30.3" text-anchor="middle" stroke="#000" stroke-width="0.2">C</text></g>
<g transform="translate(1543,592.5)"><text x="2 33.6 63.3 90.7 122.2 150.8" y="-3.1" font-family="'Liberation Sans','Noto Sans CJK JP',sans-serif" font-size="26" font-weight="bold">エミッタ接地</text></g>
<g transform="translate(1549.5,630.4)"><text transform="scale(1.3,1)" x="7.2 21.5 35.9 50.2 64.6 78.9 107.6 121.9 136.3 150.6 165 179.3 193.7" y="0" font-family="Liberation Mono" font-size="26.7" text-anchor="middle" stroke="#000" stroke-width="0.2">COMMONEMITTER</text></g>
<g transform="translate(1559.3,673)"><text transform="scale(1.3,1)" x="0" y="0" font-family="Liberation Mono" font-size="25.2" text-anchor="middle" stroke="#000" stroke-width="0.2">V</text></g>
<g transform="translate(1567,680.4)"><text transform="scale(1.2,1)" x="7.6 22.8" y="0" font-family="Liberation Mono" font-size="25.2" text-anchor="middle" stroke="#000" stroke-width="0.2">CE</text></g>
<g transform="translate(1617,673)"><text transform="scale(1.3,1)" x="0" y="0" font-family="Liberation Mono" font-size="25.8" text-anchor="middle" stroke="#000" stroke-width="0.2">=</text></g>
<line x1="1629.5" y1="664.5" x2="1648.5" y2="664.5" stroke="#000" stroke-width="2.4"/>
<g transform="translate(1661.5,673)"><text transform="scale(1.3,1)" x="0" y="0" font-family="Liberation Mono" font-size="25.8" text-anchor="middle" stroke="#000" stroke-width="0.2">5</text></g>
<g transform="translate(1683,673)"><text transform="scale(1.3,1)" x="0" y="0" font-family="Liberation Mono" font-size="25.2" text-anchor="middle" stroke="#000" stroke-width="0.2">V</text></g>
<g transform="translate(1151.5,548.5)"><text transform="scale(1.2,1)" x="-41.7" y="0" font-family="Liberation Mono" font-size="25" text-anchor="middle" stroke="#000" stroke-width="0.2">5</text><text transform="scale(1.2,1)" x="-29.8 -17.9 -6" y="0" font-family="Liberation Sans" font-size="23.9" text-anchor="middle" stroke="#000" stroke-width="0.2">000</text></g>
<g transform="translate(1151.5,610)"><text transform="scale(1.2,1)" x="-41.7" y="0" font-family="Liberation Mono" font-size="25" text-anchor="middle" stroke="#000" stroke-width="0.2">3</text><text transform="scale(1.2,1)" x="-29.8 -17.9 -6" y="0" font-family="Liberation Sans" font-size="23.9" text-anchor="middle" stroke="#000" stroke-width="0.2">000</text></g>
<g transform="translate(1151.5,720)"><text transform="scale(1.2,1)" x="-41.7" y="0" font-family="Liberation Mono" font-size="25" text-anchor="middle" stroke="#000" stroke-width="0.2">1</text><text transform="scale(1.2,1)" x="-29.8 -17.9 -6" y="0" font-family="Liberation Sans" font-size="23.9" text-anchor="middle" stroke="#000" stroke-width="0.2">000</text></g>
<g transform="translate(1151.5,798)"><text transform="scale(1.2,1)" x="-35" y="0" font-family="Liberation Mono" font-size="25.8" text-anchor="middle" stroke="#000" stroke-width="0.2">5</text><text transform="scale(1.2,1)" x="-21 -7" y="0" font-family="Liberation Sans" font-size="24.6" text-anchor="middle" stroke="#000" stroke-width="0.2">00</text></g>
<g transform="translate(1151.5,852)"><text transform="scale(1.2,1)" x="-35" y="0" font-family="Liberation Mono" font-size="25.8" text-anchor="middle" stroke="#000" stroke-width="0.2">3</text><text transform="scale(1.2,1)" x="-21 -7" y="0" font-family="Liberation Sans" font-size="24.6" text-anchor="middle" stroke="#000" stroke-width="0.2">00</text></g>
<g transform="translate(1151.5,969)"><text transform="scale(1.2,1)" x="-35" y="0" font-family="Liberation Mono" font-size="25.8" text-anchor="middle" stroke="#000" stroke-width="0.2">1</text><text transform="scale(1.2,1)" x="-21 -7" y="0" font-family="Liberation Sans" font-size="24.6" text-anchor="middle" stroke="#000" stroke-width="0.2">00</text></g>
<g transform="translate(1151.5,1043)"><text transform="scale(1.2,1)" x="-21" y="0" font-family="Liberation Mono" font-size="25.8" text-anchor="middle" stroke="#000" stroke-width="0.2">5</text><text transform="scale(1.2,1)" x="-7" y="0" font-family="Liberation Sans" font-size="24.6" text-anchor="middle" stroke="#000" stroke-width="0.2">0</text></g>
<g transform="translate(1151.5,1098)"><text transform="scale(1.2,1)" x="-21" y="0" font-family="Liberation Mono" font-size="25.8" text-anchor="middle" stroke="#000" stroke-width="0.2">3</text><text transform="scale(1.2,1)" x="-7" y="0" font-family="Liberation Sans" font-size="24.6" text-anchor="middle" stroke="#000" stroke-width="0.2">0</text></g>
<g transform="translate(1151.5,1211)"><text transform="scale(1.2,1)" x="-21" y="0" font-family="Liberation Mono" font-size="25.8" text-anchor="middle" stroke="#000" stroke-width="0.2">1</text><text transform="scale(1.2,1)" x="-7" y="0" font-family="Liberation Sans" font-size="24.6" text-anchor="middle" stroke="#000" stroke-width="0.2">0</text></g>
<g transform="translate(1133,1235.7)"><line x1="-44.8" y1="-8.2" x2="-23.2" y2="-8.2" stroke="#000" stroke-width="2.3"/><text transform="scale(1.2,1)" x="-3.4 31.7" y="0" font-family="Liberation Mono" font-size="25" text-anchor="middle" stroke="#000" stroke-width="0.2">.3</text><text transform="scale(1.2,1)" x="-12.5 5.8 18.7" y="0" font-family="Liberation Sans" font-size="23.9" text-anchor="middle" stroke="#000" stroke-width="0.2">000</text></g>
<g transform="translate(1291,1235.7)"><line x1="-37.1" y1="-8.2" x2="-15.5" y2="-8.2" stroke="#000" stroke-width="2.3"/><text transform="scale(1.2,1)" x="3.1 25.2" y="0" font-family="Liberation Mono" font-size="25" text-anchor="middle" stroke="#000" stroke-width="0.2">.1</text><text transform="scale(1.2,1)" x="-6.1 12.3" y="0" font-family="Liberation Sans" font-size="23.9" text-anchor="middle" stroke="#000" stroke-width="0.2">00</text></g>
<g transform="translate(1387.5,1235.7)"><line x1="-37.1" y1="-8.2" x2="-15.5" y2="-8.2" stroke="#000" stroke-width="2.3"/><text transform="scale(1.2,1)" x="3.1 25.2" y="0" font-family="Liberation Mono" font-size="25" text-anchor="middle" stroke="#000" stroke-width="0.2">.3</text><text transform="scale(1.2,1)" x="-6.1 12.3" y="0" font-family="Liberation Sans" font-size="23.9" text-anchor="middle" stroke="#000" stroke-width="0.2">00</text></g>
<g transform="translate(1517,1235.7)"><line x1="-29.3" y1="-8.2" x2="-7.7" y2="-8.2" stroke="#000" stroke-width="2.3"/><text transform="scale(1.2,1)" x="9.6 18.7" y="0" font-family="Liberation Mono" font-size="25" text-anchor="middle" stroke="#000" stroke-width="0.2">.1</text><text transform="scale(1.2,1)" x="0.4" y="0" font-family="Liberation Sans" font-size="23.9" text-anchor="middle" stroke="#000" stroke-width="0.2">0</text></g>
<g transform="translate(1640.5,1235.7)"><line x1="-29.3" y1="-8.2" x2="-7.7" y2="-8.2" stroke="#000" stroke-width="2.3"/><text transform="scale(1.2,1)" x="9.6 18.7" y="0" font-family="Liberation Mono" font-size="25" text-anchor="middle" stroke="#000" stroke-width="0.2">.3</text><text transform="scale(1.2,1)" x="0.4" y="0" font-family="Liberation Sans" font-size="23.9" text-anchor="middle" stroke="#000" stroke-width="0.2">0</text></g>
<g transform="translate(1780,1235.7)"><text transform="scale(1.2,1)" x="0" y="0" font-family="Liberation Mono" font-size="25" text-anchor="middle" stroke="#000" stroke-width="0.2">1</text></g>
<g transform="translate(1894.5,1235.7)"><text transform="scale(1.2,1)" x="0" y="0" font-family="Liberation Mono" font-size="25" text-anchor="middle" stroke="#000" stroke-width="0.2">3</text></g>
<g transform="translate(1300,1297)"><text x="3.9 29.1 54.3 79.5 104.7 129.9" y="-2.8" font-family="'Liberation Sans','Noto Sans CJK JP',sans-serif" font-size="23" font-weight="bold">コレクタ電流</text></g>
<g transform="translate(1492.8,1292)"><text transform="scale(1.2,1)" x="0" y="0" font-family="Liberation Mono" font-size="24.3" text-anchor="middle" stroke="#000" stroke-width="0.2">I</text></g>
<g transform="translate(1517,1302.4)"><text transform="scale(1.2,1)" x="0" y="0" font-family="Liberation Mono" font-size="24.3" text-anchor="middle" stroke="#000" stroke-width="0.2">C</text></g>
<g transform="translate(1565,1293)"><text transform="scale(1.2,1)" x="10.7 32 53.3" y="0" font-family="Liberation Mono" font-size="24.3" text-anchor="middle" stroke="#000" stroke-width="0.2">(A)</text></g>
<g transform="translate(1077,1060) rotate(-90)"><text x="2.6 36.7 70.7 104.8 135.7 167.6 201.7" y="-3" font-family="'Liberation Sans','Noto Sans CJK JP',sans-serif" font-size="25" font-weight="bold">直流電流増幅率</text></g>
<g transform="translate(1071,779.8) rotate(-90)"><text transform="scale(1.2,1)" x="0" y="0" font-family="Liberation Mono" font-size="24.9" text-anchor="middle" stroke="#000" stroke-width="0.2">h</text></g>
<g transform="translate(1076.4,756.4) rotate(-90)"><text transform="scale(1.2,1)" x="0" y="0" font-family="Liberation Mono" font-size="24.3" text-anchor="middle" stroke="#000" stroke-width="0.2">F</text></g>
<g transform="translate(1076.4,733) rotate(-90)"><text transform="scale(1.2,1)" x="0" y="0" font-family="Liberation Mono" font-size="24.3" text-anchor="middle" stroke="#000" stroke-width="0.2">E</text></g>
<g transform="translate(1319,896)"><text transform="scale(1.2,1)" x="8.5 25.6 42.7 59.8" y="0" font-family="Liberation Mono" font-size="26.6" text-anchor="middle" stroke="#000" stroke-width="0.2">Ta=1</text><text transform="scale(1.2,1)" x="76.9 94" y="0" font-family="Liberation Sans" font-size="25.4" text-anchor="middle" stroke="#000" stroke-width="0.2">00</text></g>
<g transform="translate(1443,896)"><text transform="scale(1.1,1)" x="5.5 16.4" y="0" font-family="Liberation Mono" font-size="26.6" text-anchor="middle" stroke="#000" stroke-width="0.2">°C</text></g>
<g transform="translate(1401,958)"><text transform="scale(1.2,1)" x="9.6 28.8" y="0" font-family="Liberation Mono" font-size="25.8" text-anchor="middle" stroke="#000" stroke-width="0.2">25</text></g>
<g transform="translate(1382,997)"><line x1="0.9" y1="-8.5" x2="23.1" y2="-8.5" stroke="#000" stroke-width="2.4"/><text transform="scale(1.2,1)" x="28.8 47.2" y="0" font-family="Liberation Mono" font-size="25.8" text-anchor="middle" stroke="#000" stroke-width="0.2">25</text></g>
<line x1="262.8" y1="1678" x2="262.8" y2="2359.8" stroke="#000" stroke-width="2"/>
<line x1="286.6" y1="1678.1" x2="286.6" y2="2360" stroke="#000" stroke-width="2"/>
<line x1="306.1" y1="1678.1" x2="306.1" y2="2360.1" stroke="#000" stroke-width="2"/>
<line x1="322.6" y1="1678.1" x2="322.6" y2="2360.3" stroke="#000" stroke-width="2"/>
<line x1="336.8" y1="1678.1" x2="336.8" y2="2360.4" stroke="#000" stroke-width="2"/>
<line x1="349.4" y1="1678.2" x2="349.4" y2="2360.5" stroke="#000" stroke-width="2"/>
<line x1="360.7" y1="1678.2" x2="360.7" y2="2360.6" stroke="#000" stroke-width="3"/>
<line x1="437" y1="1678.3" x2="437" y2="2361.2" stroke="#000" stroke-width="2"/>
<line x1="481.6" y1="1678.3" x2="481.6" y2="2361.6" stroke="#000" stroke-width="2"/>
<line x1="512" y1="1678.4" x2="512" y2="2361.8" stroke="#000" stroke-width="2"/>
<line x1="535.5" y1="1678.4" x2="535.5" y2="2362" stroke="#000" stroke-width="2"/>
<line x1="554.8" y1="1678.4" x2="554.8" y2="2362.2" stroke="#000" stroke-width="2"/>
<line x1="571" y1="1678.5" x2="571" y2="2362.3" stroke="#000" stroke-width="2"/>
<line x1="585.1" y1="1678.5" x2="585.1" y2="2362.4" stroke="#000" stroke-width="2"/>
<line x1="597.6" y1="1678.5" x2="597.6" y2="2362.5" stroke="#000" stroke-width="2"/>
<line x1="608.7" y1="1678.5" x2="608.7" y2="2362.6" stroke="#000" stroke-width="3"/>
<line x1="684" y1="1678.6" x2="684" y2="2363.3" stroke="#000" stroke-width="2"/>
<line x1="728.1" y1="1678.7" x2="728.1" y2="2363.6" stroke="#000" stroke-width="2"/>
<line x1="759.4" y1="1678.7" x2="759.4" y2="2363.9" stroke="#000" stroke-width="2"/>
<line x1="783.7" y1="1678.7" x2="783.7" y2="2364.1" stroke="#000" stroke-width="2"/>
<line x1="803.5" y1="1678.8" x2="803.5" y2="2364.2" stroke="#000" stroke-width="2"/>
<line x1="820.2" y1="1678.8" x2="820.2" y2="2364.4" stroke="#000" stroke-width="2"/>
<line x1="834.7" y1="1678.8" x2="834.7" y2="2364.5" stroke="#000" stroke-width="2"/>
<line x1="847.5" y1="1678.8" x2="847.5" y2="2364.6" stroke="#000" stroke-width="2"/>
<line x1="859" y1="1678.8" x2="859" y2="2364.7" stroke="#000" stroke-width="3"/>
<line x1="934.7" y1="1678.9" x2="934.7" y2="2365.3" stroke="#000" stroke-width="2"/>
<polyline fill="none" stroke="#000" stroke-width="2.6" points="232,2335 260,2336.6 290,2338 320,2339.1 350,2339.9 402,2340.7 979,2344.9"/>
<polyline fill="none" stroke="#000" stroke-width="2.6" points="232,2318.1 260,2319.6 290,2321 320,2322.1 350,2322.9 402,2323.7 979,2327.4"/>
<polyline fill="none" stroke="#000" stroke-width="2.6" points="232,2303.5 260,2305 290,2306.3 320,2307.4 350,2308.2 402,2308.9 979,2312.2"/>
<polyline fill="none" stroke="#000" stroke-width="2.6" points="232,2290.6 260,2292.1 290,2293.4 320,2294.4 350,2295.2 402,2295.9 979,2298.8"/>
<polyline fill="none" stroke="#000" stroke-width="3.2" points="232,2279 260,2280.5 290,2281.8 320,2282.8 350,2283.6 402,2284.3 979,2286.8"/>
<polyline fill="none" stroke="#000" stroke-width="2.6" points="232,2208.9 260,2209.2 290,2209.5 320,2209.7 350,2209.9 402,2210.2 979,2212.7"/>
<polyline fill="none" stroke="#000" stroke-width="2.6" points="232,2166.2 260,2166.3 290,2166.4 320,2166.6 350,2166.7 402,2166.9 979,2169.4"/>
<polyline fill="none" stroke="#000" stroke-width="2.6" points="232,2135.5 260,2135.6 290,2135.7 320,2135.8 350,2136 402,2136.2 979,2138.6"/>
<polyline fill="none" stroke="#000" stroke-width="2.6" points="232,2111.6 260,2111.7 290,2111.9 320,2112 350,2112.1 402,2112.3 979,2114.8"/>
<polyline fill="none" stroke="#000" stroke-width="2.6" points="232,2092.2 260,2092.3 290,2092.4 320,2092.5 350,2092.6 402,2092.9 979,2095.3"/>
<polyline fill="none" stroke="#000" stroke-width="2.6" points="232,2075.7 260,2075.8 290,2075.9 320,2076.1 350,2076.2 402,2076.4 979,2078.8"/>
<polyline fill="none" stroke="#000" stroke-width="2.6" points="232,2061.4 260,2061.5 290,2061.7 320,2061.8 350,2061.9 402,2062.1 979,2064.5"/>
<polyline fill="none" stroke="#000" stroke-width="2.6" points="232,2048.9 260,2049 290,2049.1 320,2049.2 350,2049.3 402,2049.6 979,2052"/>
<polyline fill="none" stroke="#000" stroke-width="3.2" points="232,2037.6 260,2037.7 290,2037.8 320,2038 350,2038.1 402,2038.3 979,2040.7"/>
<polyline fill="none" stroke="#000" stroke-width="2.6" points="232,1963.9 260,1964 290,1964.1 320,1964.2 350,1964.3 402,1964.4 979,1966.3"/>
<polyline fill="none" stroke="#000" stroke-width="2.6" points="232,1920.8 260,1920.9 290,1921 320,1921 350,1921.1 402,1921.2 979,1922.8"/>
<polyline fill="none" stroke="#000" stroke-width="2.6" points="232,1890.2 260,1890.3 290,1890.3 320,1890.4 350,1890.5 402,1890.6 979,1891.9"/>
<polyline fill="none" stroke="#000" stroke-width="2.6" points="232,1866.5 260,1866.5 290,1866.6 320,1866.7 350,1866.7 402,1866.8 979,1867.9"/>
<polyline fill="none" stroke="#000" stroke-width="2.6" points="232,1847.1 260,1847.2 290,1847.2 320,1847.3 350,1847.3 402,1847.4 979,1848.3"/>
<polyline fill="none" stroke="#000" stroke-width="2.6" points="232,1830.7 260,1830.8 290,1830.8 320,1830.8 350,1830.9 402,1831 979,1831.8"/>
<polyline fill="none" stroke="#000" stroke-width="2.6" points="232,1816.5 260,1816.6 290,1816.6 320,1816.6 350,1816.7 402,1816.7 979,1817.5"/>
<polyline fill="none" stroke="#000" stroke-width="2.6" points="232,1804 260,1804 290,1804.1 320,1804.1 350,1804.1 402,1804.2 979,1804.8"/>
<polyline fill="none" stroke="#000" stroke-width="3.2" points="232,1792.8 260,1792.8 290,1792.9 320,1792.9 350,1792.9 402,1793 979,1793.5"/>
<polyline fill="none" stroke="#000" stroke-width="2.6" points="232,1720.4 260,1720.4 290,1720.4 320,1720.5 350,1720.5 402,1720.6 979,1721.3"/>
<rect x="610.2" y="1678" width="368.8" height="168.5" fill="#fff"/>
<polygon fill="#fff" points="629.5,2170 663.9,2170 663.9,2140.3 687.4,2140.3 687.4,2116.8 701.5,2116.8 701.5,2096.4 715.6,2096.4 715.6,2079.2 732.8,2079.2 732.8,2042.6 784.8,2042.6 784.8,2075.1 763.5,2103.3 730.6,2140.9 686.8,2187.9 653.9,2216"/>
<polygon fill="#fff" points="733.1,2216.7 763.5,2183.2 781.7,2161.2 781.7,2264.6 765.1,2264.6 765.1,2275.5 729.1,2275.5 729.1,2283.3 688.4,2283.3 688.4,2262.4"/>
<polygon points="232,1678 979,1679 979,2365.7 402,2360.9 350,2360.1 320,2359.2 290,2358 260,2356.6 232,2355" fill="none" stroke="#000" stroke-width="3.5"/>
<path d="M231.8,2259.9C237.3,2261.5 252.4,2266.7 264.6,2269.3C276.9,2271.9 289.1,2273.8 305.3,2275.5C321.5,2277.2 339.5,2278.3 361.7,2279.6C383.9,2280.9 418.6,2282.9 438.4,2283.3C458.2,2283.7 468.4,2282.6 480.7,2281.8C493,2281 502.6,2280.2 512,2278.6C521.4,2277 527.6,2274.9 537,2272.4C546.4,2269.9 556.1,2268.1 568.3,2263.5C580.5,2258.9 599.5,2250.2 610.1,2245C620.7,2239.8 624.7,2236.8 632,2232C639.3,2227.2 644.8,2223.4 653.9,2216C663,2208.6 674,2200.3 686.8,2187.8C699.6,2175.3 717.8,2155 730.6,2140.9C743.4,2126.8 754.1,2114.4 763.5,2103.3C772.9,2092.2 779.7,2083.6 787,2074.5C794.3,2065.4 801.3,2056.5 807.3,2048.5C813.3,2040.5 817.8,2034.2 823,2026.6C828.2,2019 834.2,2010.3 838.7,2003C843.2,1995.7 846.5,1990.2 850,1983C853.5,1975.8 858.3,1963.8 860,1960" fill="none" stroke="#000" stroke-width="4" stroke-linecap="round" stroke-linejoin="round"/>
<path d="M231.8,2266.1C237.3,2267.9 252.4,2274 264.6,2277.1C276.9,2280.2 289.1,2282.6 305.3,2284.9C321.5,2287.2 339.5,2289.6 361.7,2291.2C383.9,2292.8 418.6,2293.9 438.4,2294.3C458.2,2294.7 464.3,2294.8 480.7,2293.7C497.1,2292.6 522.4,2289.9 537,2288C551.6,2286.1 556.1,2285.5 568.3,2282.5C580.5,2279.5 599.5,2273.8 610.1,2270C620.7,2266.2 624.7,2263.8 632,2260C639.3,2256.2 644.8,2253.3 653.9,2247.3C663,2241.3 674,2234.3 686.8,2223.9C699.6,2213.5 717.8,2197.5 730.6,2184.7C743.4,2171.9 754.1,2158.4 763.5,2147.2C772.9,2136 779.7,2126.8 787,2117.4C794.3,2108 801.3,2099.2 807.3,2090.8C813.3,2082.5 817.8,2075.6 823,2067.3C828.2,2059 834.2,2048.9 838.7,2041C843.2,2033.1 846.5,2027.7 850,2020C853.5,2012.3 858.3,1999.2 860,1995" fill="none" stroke="#000" stroke-width="4" stroke-linecap="round" stroke-linejoin="round"/>
<path d="M231.8,2272.4C237.3,2275 252.4,2283.6 264.6,2288C276.9,2292.4 289.1,2295.9 305.3,2299C321.5,2302.1 339.5,2304.6 361.7,2306.8C383.9,2309.1 418.6,2311.4 438.4,2312.5C458.2,2313.6 464.3,2313.8 480.7,2313.1C497.1,2312.4 522.4,2310.2 537,2308.4C551.6,2306.6 556.1,2304.7 568.3,2302.1C580.5,2299.5 595.8,2296.8 610.1,2292.7C624.4,2288.6 641.1,2283.4 653.9,2277.5C666.7,2271.6 674,2267.2 686.8,2257.5C699.6,2247.8 717.8,2231.6 730.6,2219.2C743.4,2206.8 754.1,2193.9 763.5,2183.2C772.9,2172.5 779.7,2164.4 787,2155C794.3,2145.6 801.3,2135.4 807.3,2126.5C813.3,2117.6 817.8,2110.4 823,2101.8C828.2,2093.2 832.4,2085.4 838.7,2075.1C845,2064.8 857.3,2045.8 861,2040" fill="none" stroke="#000" stroke-width="4" stroke-linecap="round" stroke-linejoin="round"/>
<g transform="translate(484.9,1646.6)"><text transform="scale(1.2,1)" x="0" y="0" font-family="Liberation Mono" font-size="27.3" text-anchor="middle" stroke="#000" stroke-width="0.2">V</text></g>
<g transform="translate(495.7,1657)"><text transform="scale(1.2,1)" x="8.7 26 43.3 60.7 78 95.3 112.7" y="0" font-family="Liberation Mono" font-size="28.8" text-anchor="middle" stroke="#000" stroke-width="0.2">CE(sat)</text></g>
<line x1="657.3" y1="1639" x2="682.6" y2="1639" stroke="#000" stroke-width="2.4"/>
<g transform="translate(718.7,1650.4)"><text transform="scale(1.2,1)" x="0" y="0" font-family="Liberation Mono" font-size="32.6" text-anchor="middle" stroke="#000" stroke-width="0.2">I</text></g>
<g transform="translate(740.8,1657)"><text transform="scale(1.2,1)" x="0" y="0" font-family="Liberation Mono" font-size="28.8" text-anchor="middle" stroke="#000" stroke-width="0.2">C</text></g>
<g transform="translate(631,1730)"><text x="2.4 34.8 64.7 93.4 125.7 154.4" y="-3.1" font-family="'Liberation Sans','Noto Sans CJK JP',sans-serif" font-size="26" font-weight="bold">エミッタ接地</text></g>
<g transform="translate(636.5,1769)"><text transform="scale(1.3,1)" x="7.3 22 36.6 51.3 65.9 80.6 109.9 124.6 139.2 153.9 168.5 183.2 197.8" y="0" font-family="Liberation Mono" font-size="27" text-anchor="middle" stroke="#000" stroke-width="0.2">COMMONEMITTER</text></g>
<g transform="translate(646.4,1810.4)"><text transform="scale(1.0,1)" x="0" y="0" font-family="Liberation Mono" font-size="27.9" text-anchor="middle" stroke="#000" stroke-width="0.2">I</text></g>
<g transform="translate(665.4,1817.7)"><text transform="scale(1.2,1)" x="0" y="0" font-family="Liberation Mono" font-size="25.8" text-anchor="middle" stroke="#000" stroke-width="0.2">C</text></g>
<line x1="674" y1="1813" x2="700" y2="1790.8" stroke="#000" stroke-width="2.2"/>
<g transform="translate(711.1,1810.4)"><text transform="scale(1.0,1)" x="0" y="0" font-family="Liberation Mono" font-size="27.9" text-anchor="middle" stroke="#000" stroke-width="0.2">I</text></g>
<g transform="translate(730.6,1817.7)"><text transform="scale(1.2,1)" x="0" y="0" font-family="Liberation Mono" font-size="25.8" text-anchor="middle" stroke="#000" stroke-width="0.2">E</text></g>
<g transform="translate(752.7,1808)"><text transform="scale(1.4,1)" x="0" y="0" font-family="Liberation Mono" font-size="27.3" text-anchor="middle" stroke="#000" stroke-width="0.1">=</text></g>
<g transform="translate(775.8,1810.4)"><text transform="scale(1.2,1)" x="0" y="0" font-family="Liberation Mono" font-size="27.3" text-anchor="middle" stroke="#000" stroke-width="0.2">1</text></g>
<g transform="translate(797.8,1810.4)"><text transform="scale(1.2,1)" x="0" y="0" font-family="Liberation Sans" font-size="26.1" text-anchor="middle" stroke="#000" stroke-width="0.2">0</text></g>
<g transform="translate(228,1690)"><line x1="-55.7" y1="-8.5" x2="-33.5" y2="-8.5" stroke="#000" stroke-width="2.4"/><text transform="scale(1.2,1)" x="-20.6" y="0" font-family="Liberation Mono" font-size="25.8" text-anchor="middle" stroke="#000" stroke-width="0.2">3</text><text transform="scale(1.2,1)" x="-6.9" y="0" font-family="Liberation Sans" font-size="24.6" text-anchor="middle" stroke="#000" stroke-width="0.2">0</text></g>
<g transform="translate(228,1801)"><line x1="-55.7" y1="-8.5" x2="-33.5" y2="-8.5" stroke="#000" stroke-width="2.4"/><text transform="scale(1.2,1)" x="-20.6" y="0" font-family="Liberation Mono" font-size="25.8" text-anchor="middle" stroke="#000" stroke-width="0.2">1</text><text transform="scale(1.2,1)" x="-6.9" y="0" font-family="Liberation Sans" font-size="24.6" text-anchor="middle" stroke="#000" stroke-width="0.2">0</text></g>
<g transform="translate(228,1873)"><line x1="-39.2" y1="-8.5" x2="-17" y2="-8.5" stroke="#000" stroke-width="2.4"/><text transform="scale(1.2,1)" x="-6.9" y="0" font-family="Liberation Mono" font-size="25.8" text-anchor="middle" stroke="#000" stroke-width="0.2">5</text></g>
<g transform="translate(228,1926.7)"><line x1="-39.2" y1="-8.5" x2="-17" y2="-8.5" stroke="#000" stroke-width="2.4"/><text transform="scale(1.2,1)" x="-6.9" y="0" font-family="Liberation Mono" font-size="25.8" text-anchor="middle" stroke="#000" stroke-width="0.2">3</text></g>
<g transform="translate(228,2046.5)"><line x1="-39.2" y1="-8.5" x2="-17" y2="-8.5" stroke="#000" stroke-width="2.4"/><text transform="scale(1.2,1)" x="-6.9" y="0" font-family="Liberation Mono" font-size="25.8" text-anchor="middle" stroke="#000" stroke-width="0.2">1</text></g>
<g transform="translate(228,2123)"><line x1="-62.6" y1="-8.5" x2="-40.4" y2="-8.5" stroke="#000" stroke-width="2.4"/><text transform="scale(1.2,1)" x="-16.6 -6.9" y="0" font-family="Liberation Mono" font-size="25.8" text-anchor="middle" stroke="#000" stroke-width="0.2">.5</text><text transform="scale(1.2,1)" x="-26.4" y="0" font-family="Liberation Sans" font-size="24.6" text-anchor="middle" stroke="#000" stroke-width="0.2">0</text></g>
<g transform="translate(228,2174)"><line x1="-62.6" y1="-8.5" x2="-40.4" y2="-8.5" stroke="#000" stroke-width="2.4"/><text transform="scale(1.2,1)" x="-16.6 -6.9" y="0" font-family="Liberation Mono" font-size="25.8" text-anchor="middle" stroke="#000" stroke-width="0.2">.3</text><text transform="scale(1.2,1)" x="-26.4" y="0" font-family="Liberation Sans" font-size="24.6" text-anchor="middle" stroke="#000" stroke-width="0.2">0</text></g>
<g transform="translate(228,2278)"><line x1="-62.6" y1="-8.5" x2="-40.4" y2="-8.5" stroke="#000" stroke-width="2.4"/><text transform="scale(1.2,1)" x="-16.6 -6.9" y="0" font-family="Liberation Mono" font-size="25.8" text-anchor="middle" stroke="#000" stroke-width="0.2">.1</text><text transform="scale(1.2,1)" x="-26.4" y="0" font-family="Liberation Sans" font-size="24.6" text-anchor="middle" stroke="#000" stroke-width="0.2">0</text></g>
<g transform="translate(228,2362.3)"><text transform="scale(1.2,1)" x="-29.5 -6.7" y="0" font-family="Liberation Mono" font-size="24.3" text-anchor="middle" stroke="#000" stroke-width="0.2">.5</text><text transform="scale(1.2,1)" x="-38.9 -20" y="0" font-family="Liberation Sans" font-size="23.2" text-anchor="middle" stroke="#000" stroke-width="0.2">00</text></g>
<line x1="171" y1="2353" x2="178" y2="2353" stroke="#000" stroke-width="2"/>
<g transform="translate(214.6,2386.7)"><line x1="-42.5" y1="-8" x2="-21.6" y2="-8" stroke="#000" stroke-width="2.2"/><text transform="scale(1.2,1)" x="-2.9 30.1" y="0" font-family="Liberation Mono" font-size="24.3" text-anchor="middle" stroke="#000" stroke-width="0.2">.3</text><text transform="scale(1.2,1)" x="-11.5 5.8 17.9" y="0" font-family="Liberation Sans" font-size="23.2" text-anchor="middle" stroke="#000" stroke-width="0.2">000</text></g>
<g transform="translate(354.6,2390.5)"><line x1="-35.2" y1="-8" x2="-14.3" y2="-8" stroke="#000" stroke-width="2.2"/><text transform="scale(1.2,1)" x="3.2 24" y="0" font-family="Liberation Mono" font-size="24.3" text-anchor="middle" stroke="#000" stroke-width="0.2">.1</text><text transform="scale(1.2,1)" x="-5.4 11.8" y="0" font-family="Liberation Sans" font-size="23.2" text-anchor="middle" stroke="#000" stroke-width="0.2">00</text></g>
<g transform="translate(473,2391)"><line x1="-35.2" y1="-8" x2="-14.3" y2="-8" stroke="#000" stroke-width="2.2"/><text transform="scale(1.2,1)" x="3.2 24" y="0" font-family="Liberation Mono" font-size="24.3" text-anchor="middle" stroke="#000" stroke-width="0.2">.3</text><text transform="scale(1.2,1)" x="-5.4 11.8" y="0" font-family="Liberation Sans" font-size="23.2" text-anchor="middle" stroke="#000" stroke-width="0.2">00</text></g>
<g transform="translate(603.7,2391.5)"><line x1="-27.9" y1="-8" x2="-7" y2="-8" stroke="#000" stroke-width="2.2"/><text transform="scale(1.2,1)" x="9.3 17.9" y="0" font-family="Liberation Mono" font-size="24.3" text-anchor="middle" stroke="#000" stroke-width="0.2">.1</text><text transform="scale(1.2,1)" x="0.7" y="0" font-family="Liberation Sans" font-size="23.2" text-anchor="middle" stroke="#000" stroke-width="0.2">0</text></g>
<g transform="translate(726.2,2392)"><line x1="-27.9" y1="-8" x2="-7" y2="-8" stroke="#000" stroke-width="2.2"/><text transform="scale(1.2,1)" x="9.3 17.9" y="0" font-family="Liberation Mono" font-size="24.3" text-anchor="middle" stroke="#000" stroke-width="0.2">.3</text><text transform="scale(1.2,1)" x="0.7" y="0" font-family="Liberation Sans" font-size="23.2" text-anchor="middle" stroke="#000" stroke-width="0.2">0</text></g>
<g transform="translate(863.6,2392.5)"><text transform="scale(1.2,1)" x="0" y="0" font-family="Liberation Mono" font-size="24.3" text-anchor="middle" stroke="#000" stroke-width="0.2">1</text></g>
<g transform="translate(986,2393)"><text transform="scale(1.2,1)" x="0" y="0" font-family="Liberation Mono" font-size="24.3" text-anchor="middle" stroke="#000" stroke-width="0.2">3</text></g>
<g transform="translate(400,2451)"><text x="1.8 32.8 69 102.8 137.8 171.5" y="-2.9" font-family="'Liberation Sans','Noto Sans CJK JP',sans-serif" font-size="24" font-weight="bold">コレクタ電流</text></g>
<g transform="translate(649.5,2446)"><text transform="scale(1.2,1)" x="0" y="0" font-family="Liberation Mono" font-size="25.8" text-anchor="middle" stroke="#000" stroke-width="0.2">I</text></g>
<g transform="translate(672.3,2457)"><text transform="scale(1.2,1)" x="0" y="0" font-family="Liberation Mono" font-size="24.3" text-anchor="middle" stroke="#000" stroke-width="0.2">C</text></g>
<g transform="translate(727.3,2447)"><text transform="scale(1.2,1)" x="10.6 31.9 53.1" y="0" font-family="Liberation Mono" font-size="24.3" text-anchor="middle" stroke="#000" stroke-width="0.2">(A)</text></g>
<g transform="translate(132,2352) rotate(-90)"><text x="9.1 34.1 59.7 87.5 114 137.4 162 188.2 213.1 246.2 276.5 305.2 333.5 361.1" y="-2.9" font-family="'Liberation Sans','Noto Sans CJK JP',sans-serif" font-size="24" font-weight="bold">コレクタ・エミッタ間飽和電圧</text></g>
<g transform="translate(130.3,1929) rotate(-90)"><text transform="scale(1.2,1)" x="0" y="0" font-family="Liberation Mono" font-size="27.3" text-anchor="middle" stroke="#000" stroke-width="0.2">V</text></g>
<g transform="translate(134.5,1920) rotate(-90)"><text transform="scale(1.2,1)" x="7.7 23 38.3 53.7 69 84.3 99.7" y="0" font-family="Liberation Mono" font-size="25.8" text-anchor="middle" stroke="#000" stroke-width="0.2">CE(sat)</text></g>
<g transform="translate(131.3,1748) rotate(-90)"><text transform="scale(1.2,1)" x="6.9 20.6 34.4" y="0" font-family="Liberation Mono" font-size="27.3" text-anchor="middle" stroke="#000" stroke-width="0.2">(V)</text></g>
<g transform="translate(656,2192) rotate(-45)"><text transform="scale(1.2,1)" x="8.5 25.6 42.7 59.8" y="0" font-family="Liberation Mono" font-size="25.8" text-anchor="middle" stroke="#000" stroke-width="0.2">Ta=1</text><text transform="scale(1.2,1)" x="76.9 94" y="0" font-family="Liberation Sans" font-size="24.6" text-anchor="middle" stroke="#000" stroke-width="0.2">00</text></g>
<g transform="translate(743,2105) rotate(-45)"><text transform="scale(1.1,1)" x="5.5 16.4" y="0" font-family="Liberation Mono" font-size="25.8" text-anchor="middle" stroke="#000" stroke-width="0.2">°C</text></g>
<g transform="translate(703,2206) rotate(-45)"><text transform="scale(1.2,1)" x="8.8 26.2" y="0" font-family="Liberation Mono" font-size="25.8" text-anchor="middle" stroke="#000" stroke-width="0.2">25</text></g>
<g transform="translate(730,2256) rotate(-45)"><line x1="0.9" y1="-8.5" x2="23.1" y2="-8.5" stroke="#000" stroke-width="2.4"/><text transform="scale(1.2,1)" x="27.6 43.4" y="0" font-family="Liberation Mono" font-size="25.8" text-anchor="middle" stroke="#000" stroke-width="0.2">25</text></g>
<line x1="1195.1" y1="1757.5" x2="1195.1" y2="2364.3" stroke="#000" stroke-width="1.8"/>
<line x1="1215.9" y1="1757.5" x2="1215.9" y2="2364.3" stroke="#000" stroke-width="1.8"/>
<line x1="1233.9" y1="1757.5" x2="1233.9" y2="2364.3" stroke="#000" stroke-width="1.8"/>
<line x1="1249.8" y1="1757.5" x2="1249.8" y2="2364.3" stroke="#000" stroke-width="1.8"/>
<line x1="1264" y1="1757.5" x2="1264" y2="2364.3" stroke="#000" stroke-width="3"/>
<line x1="1353.9" y1="1757.5" x2="1353.9" y2="2364.3" stroke="#000" stroke-width="1.8"/>
<line x1="1406.5" y1="1757.5" x2="1406.5" y2="2364.3" stroke="#000" stroke-width="1.8"/>
<line x1="1443.8" y1="1757.5" x2="1443.8" y2="2364.3" stroke="#000" stroke-width="1.8"/>
<line x1="1472.8" y1="1757.5" x2="1472.8" y2="2364.3" stroke="#000" stroke-width="1.8"/>
<line x1="1496.4" y1="1757.5" x2="1496.4" y2="2364.3" stroke="#000" stroke-width="1.8"/>
<line x1="1516.4" y1="1757.5" x2="1516.4" y2="2364.3" stroke="#000" stroke-width="1.8"/>
<line x1="1533.8" y1="1757.5" x2="1533.8" y2="2364.3" stroke="#000" stroke-width="1.8"/>
<line x1="1549" y1="1757.5" x2="1549" y2="2364.3" stroke="#000" stroke-width="1.8"/>
<line x1="1562.7" y1="1757.5" x2="1562.7" y2="2364.3" stroke="#000" stroke-width="3"/>
<line x1="1655.1" y1="1757.5" x2="1655.1" y2="2364.3" stroke="#000" stroke-width="1.8"/>
<line x1="1709.1" y1="1757.5" x2="1709.1" y2="2364.3" stroke="#000" stroke-width="1.8"/>
<line x1="1747.4" y1="1757.5" x2="1747.4" y2="2364.3" stroke="#000" stroke-width="1.8"/>
<line x1="1777.1" y1="1757.5" x2="1777.1" y2="2364.3" stroke="#000" stroke-width="1.8"/>
<line x1="1801.4" y1="1757.5" x2="1801.4" y2="2364.3" stroke="#000" stroke-width="1.8"/>
<line x1="1822" y1="1757.5" x2="1822" y2="2364.3" stroke="#000" stroke-width="1.8"/>
<line x1="1839.8" y1="1757.5" x2="1839.8" y2="2364.3" stroke="#000" stroke-width="1.8"/>
<line x1="1855.5" y1="1757.5" x2="1855.5" y2="2364.3" stroke="#000" stroke-width="1.8"/>
<line x1="1170.5" y1="2273.2" x2="1869.5" y2="2273.2" stroke="#000" stroke-width="2"/>
<line x1="1170.5" y1="2219.9" x2="1869.5" y2="2219.9" stroke="#000" stroke-width="2"/>
<line x1="1170.5" y1="2182.1" x2="1869.5" y2="2182.1" stroke="#000" stroke-width="2"/>
<line x1="1170.5" y1="2152.7" x2="1869.5" y2="2152.7" stroke="#000" stroke-width="2"/>
<line x1="1170.5" y1="2128.8" x2="1869.5" y2="2128.8" stroke="#000" stroke-width="2"/>
<line x1="1170.5" y1="2108.5" x2="1869.5" y2="2108.5" stroke="#000" stroke-width="2"/>
<line x1="1170.5" y1="2090.9" x2="1869.5" y2="2090.9" stroke="#000" stroke-width="2"/>
<line x1="1170.5" y1="2075.5" x2="1869.5" y2="2075.5" stroke="#000" stroke-width="2"/>
<line x1="1170.5" y1="2061.6" x2="1869.5" y2="2061.6" stroke="#000" stroke-width="3"/>
<line x1="1170.5" y1="1970.1" x2="1869.5" y2="1970.1" stroke="#000" stroke-width="2"/>
<line x1="1170.5" y1="1916.5" x2="1869.5" y2="1916.5" stroke="#000" stroke-width="3"/>
<line x1="1170.5" y1="1878.5" x2="1869.5" y2="1878.5" stroke="#000" stroke-width="3"/>
<line x1="1170.5" y1="1849" x2="1869.5" y2="1849" stroke="#000" stroke-width="3"/>
<line x1="1170.5" y1="1825" x2="1869.5" y2="1825" stroke="#000" stroke-width="3"/>
<line x1="1170.5" y1="1804.6" x2="1869.5" y2="1804.6" stroke="#000" stroke-width="3"/>
<line x1="1170.5" y1="1787" x2="1869.5" y2="1787" stroke="#000" stroke-width="3"/>
<line x1="1170.5" y1="1771.4" x2="1869.5" y2="1771.4" stroke="#000" stroke-width="3"/>
<rect x="1564.2" y="1757.5" width="305.3" height="157.5" fill="#fff"/>
<rect x="1170.5" y="1757.5" width="699" height="606.8" fill="none" stroke="#000" stroke-width="3.5"/>
<line x1="1170.5" y1="1757.5" x2="1869.5" y2="1757.5" stroke="#000" stroke-width="5"/>
<line x1="1170.5" y1="1757.5" x2="1170.5" y2="1916.5" stroke="#000" stroke-width="5"/>
<path d="M1171.3,2215.4C1175.5,2212.9 1186,2206.3 1196.4,2200.4C1206.8,2194.5 1222.4,2186 1233.9,2180C1245.4,2174 1254.8,2169.6 1265.2,2164.4C1275.6,2159.2 1286,2153.9 1296.5,2148.7C1307,2143.5 1318.1,2137.8 1327.9,2133.1C1337.7,2128.4 1346,2124.7 1355.4,2120.5C1364.8,2116.3 1375.5,2111.9 1384.2,2108C1392.9,2104.1 1397.5,2101.4 1407.7,2097.1C1417.9,2092.8 1434.3,2086.2 1445.3,2082C1456.2,2077.8 1464.5,2075 1473.4,2072C1482.3,2069 1491.2,2066.4 1498.5,2064.2C1505.8,2062 1511.3,2060.4 1517.3,2059C1523.3,2057.6 1526.9,2056.9 1534.5,2055.5C1542.1,2054.1 1551.4,2052.1 1562.7,2050.7C1574,2049.3 1587.2,2047.7 1602.6,2046.9C1618,2046.1 1637.5,2045.6 1655.2,2046C1672.8,2046.3 1693.1,2047.4 1708.4,2049.1C1723.7,2050.8 1735.9,2053.7 1747.2,2056.3C1758.5,2058.9 1767.5,2060.7 1776.3,2064.7C1785.2,2068.8 1793.9,2073.9 1800.5,2080.4C1807,2086.9 1812,2097.4 1815.5,2103.9C1818.9,2110.4 1820.2,2116.9 1821.1,2119.5" fill="none" stroke="#000" stroke-width="4" stroke-linecap="round" stroke-linejoin="round"/>
<g transform="translate(1431.7,1728.6)"><text transform="scale(1.2,1)" x="0" y="0" font-family="Liberation Mono" font-size="28.5" text-anchor="middle" stroke="#000" stroke-width="0.2">f</text></g>
<g transform="translate(1453,1738.2)"><text transform="scale(1.2,1)" x="0" y="0" font-family="Liberation Mono" font-size="31.3" text-anchor="middle" stroke="#000" stroke-width="0.2">T</text></g>
<line x1="1484" y1="1720.3" x2="1506" y2="1720.3" stroke="#000" stroke-width="1.8"/>
<g transform="translate(1540.1,1727.2)"><text transform="scale(1.2,1)" x="0" y="0" font-family="Liberation Mono" font-size="30.3" text-anchor="middle" stroke="#000" stroke-width="0.2">I</text></g>
<g transform="translate(1562.2,1735.5)"><text transform="scale(1.2,1)" x="0" y="0" font-family="Liberation Mono" font-size="30.3" text-anchor="middle" stroke="#000" stroke-width="0.2">C</text></g>
<g transform="translate(1575,1796)"><text x="1.9 32.3 61 90.3 123.3 152" y="-3.1" font-family="'Liberation Sans','Noto Sans CJK JP',sans-serif" font-size="26" font-weight="bold">エミッタ接地</text></g>
<g transform="translate(1580.5,1825.6)"><text transform="scale(1.3,1)" x="7.2 21.5 35.8 50.1 64.4 78.7 107.3 121.6 135.9 150.2 164.5 178.8 193.2" y="0" font-family="Liberation Mono" font-size="25.8" text-anchor="middle" stroke="#000" stroke-width="0.2">COMMONEMITTER</text></g>
<g transform="translate(1588.9,1860.7)"><text transform="scale(1.3,1)" x="0" y="0" font-family="Liberation Mono" font-size="25.8" text-anchor="middle" stroke="#000" stroke-width="0.2">V</text></g>
<g transform="translate(1599,1869.2)"><text transform="scale(1.2,1)" x="7.7 23.1" y="0" font-family="Liberation Mono" font-size="25.8" text-anchor="middle" stroke="#000" stroke-width="0.2">CE</text></g>
<g transform="translate(1648,1857.5)"><text transform="scale(1.4,1)" x="0" y="0" font-family="Liberation Mono" font-size="25.8" text-anchor="middle" stroke="#000" stroke-width="0.1">=</text></g>
<line x1="1661.8" y1="1850" x2="1684.1" y2="1850" stroke="#000" stroke-width="2.2"/>
<g transform="translate(1694.2,1860.7)"><text transform="scale(1.2,1)" x="0" y="0" font-family="Liberation Mono" font-size="25.8" text-anchor="middle" stroke="#000" stroke-width="0.2">1</text></g>
<g transform="translate(1716,1860.7)"><text transform="scale(1.3,1)" x="0" y="0" font-family="Liberation Sans" font-size="24.6" text-anchor="middle" stroke="#000" stroke-width="0.2">0</text></g>
<g transform="translate(1740.5,1860.7)"><text transform="scale(1.3,1)" x="0" y="0" font-family="Liberation Mono" font-size="25.8" text-anchor="middle" stroke="#000" stroke-width="0.2">V</text></g>
<g transform="translate(1577.2,1899)"><text transform="scale(1.25,1)" x="9.3 28 46.6 65.2 83.9" y="0" font-family="Liberation Mono" font-size="25.8" text-anchor="middle" stroke="#000" stroke-width="0.2">Ta=25</text></g>
<g transform="translate(1690.5,1899)"><text transform="scale(1.1,1)" x="5 15" y="0" font-family="Liberation Mono" font-size="25.8" text-anchor="middle" stroke="#000" stroke-width="0.2">°C</text></g>
<g transform="translate(1165,1762)"><text transform="scale(1.2,1)" x="-41.4" y="0" font-family="Liberation Mono" font-size="25.8" text-anchor="middle" stroke="#000" stroke-width="0.2">1</text><text transform="scale(1.2,1)" x="-29.6 -17.8 -5.9" y="0" font-family="Liberation Sans" font-size="24.6" text-anchor="middle" stroke="#000" stroke-width="0.2">000</text></g>
<g transform="translate(1165,1858)"><text transform="scale(1.2,1)" x="-36.5" y="0" font-family="Liberation Mono" font-size="25.8" text-anchor="middle" stroke="#000" stroke-width="0.2">5</text><text transform="scale(1.2,1)" x="-21.9 -7.3" y="0" font-family="Liberation Sans" font-size="24.6" text-anchor="middle" stroke="#000" stroke-width="0.2">00</text></g>
<g transform="translate(1165,1928)"><text transform="scale(1.2,1)" x="-36.5" y="0" font-family="Liberation Mono" font-size="25.8" text-anchor="middle" stroke="#000" stroke-width="0.2">3</text><text transform="scale(1.2,1)" x="-21.9 -7.3" y="0" font-family="Liberation Sans" font-size="24.6" text-anchor="middle" stroke="#000" stroke-width="0.2">00</text></g>
<g transform="translate(1165,2068.5)"><text transform="scale(1.2,1)" x="-36.5" y="0" font-family="Liberation Mono" font-size="25.8" text-anchor="middle" stroke="#000" stroke-width="0.2">1</text><text transform="scale(1.2,1)" x="-21.9 -7.3" y="0" font-family="Liberation Sans" font-size="24.6" text-anchor="middle" stroke="#000" stroke-width="0.2">00</text></g>
<g transform="translate(1165,2166.5)"><text transform="scale(1.2,1)" x="-21.9" y="0" font-family="Liberation Mono" font-size="25.8" text-anchor="middle" stroke="#000" stroke-width="0.2">5</text><text transform="scale(1.2,1)" x="-7.3" y="0" font-family="Liberation Sans" font-size="24.6" text-anchor="middle" stroke="#000" stroke-width="0.2">0</text></g>
<g transform="translate(1165,2232.5)"><text transform="scale(1.2,1)" x="-21.9" y="0" font-family="Liberation Mono" font-size="25.8" text-anchor="middle" stroke="#000" stroke-width="0.2">3</text><text transform="scale(1.2,1)" x="-7.3" y="0" font-family="Liberation Sans" font-size="24.6" text-anchor="middle" stroke="#000" stroke-width="0.2">0</text></g>
<g transform="translate(1165,2366)"><text transform="scale(1.2,1)" x="-21.9" y="0" font-family="Liberation Mono" font-size="25.8" text-anchor="middle" stroke="#000" stroke-width="0.2">1</text><text transform="scale(1.2,1)" x="-7.3" y="0" font-family="Liberation Sans" font-size="24.6" text-anchor="middle" stroke="#000" stroke-width="0.2">0</text></g>
<g transform="translate(1169,2399)"><line x1="-18.1" y1="-8.2" x2="3.5" y2="-8.2" stroke="#000" stroke-width="2.3"/><text transform="scale(1.2,1)" x="9.6" y="0" font-family="Liberation Mono" font-size="25" text-anchor="middle" stroke="#000" stroke-width="0.2">5</text></g>
<g transform="translate(1259.2,2399)"><line x1="-25.6" y1="-8.2" x2="-4" y2="-8.2" stroke="#000" stroke-width="2.3"/><text transform="scale(1.2,1)" x="3.3" y="0" font-family="Liberation Mono" font-size="25" text-anchor="middle" stroke="#000" stroke-width="0.2">1</text><text transform="scale(1.2,1)" x="15.8" y="0" font-family="Liberation Sans" font-size="23.9" text-anchor="middle" stroke="#000" stroke-width="0.2">0</text></g>
<g transform="translate(1406,2399)"><line x1="-24.1" y1="-8.2" x2="-2.5" y2="-8.2" stroke="#000" stroke-width="2.3"/><text transform="scale(1.2,1)" x="3.9" y="0" font-family="Liberation Mono" font-size="25" text-anchor="middle" stroke="#000" stroke-width="0.2">3</text><text transform="scale(1.2,1)" x="15.2" y="0" font-family="Liberation Sans" font-size="23.9" text-anchor="middle" stroke="#000" stroke-width="0.2">0</text></g>
<g transform="translate(1477.3,2399)"><line x1="-24.1" y1="-8.2" x2="-2.5" y2="-8.2" stroke="#000" stroke-width="2.3"/><text transform="scale(1.2,1)" x="3.9" y="0" font-family="Liberation Mono" font-size="25" text-anchor="middle" stroke="#000" stroke-width="0.2">5</text><text transform="scale(1.2,1)" x="15.2" y="0" font-family="Liberation Sans" font-size="23.9" text-anchor="middle" stroke="#000" stroke-width="0.2">0</text></g>
<g transform="translate(1554,2399)"><line x1="-30.4" y1="-8.2" x2="-8.8" y2="-8.2" stroke="#000" stroke-width="2.3"/><text transform="scale(1.2,1)" x="-1.4" y="0" font-family="Liberation Mono" font-size="25" text-anchor="middle" stroke="#000" stroke-width="0.2">1</text><text transform="scale(1.2,1)" x="9.6 20.6" y="0" font-family="Liberation Sans" font-size="23.9" text-anchor="middle" stroke="#000" stroke-width="0.2">00</text></g>
<g transform="translate(1710.2,2399)"><line x1="-30.4" y1="-8.2" x2="-8.8" y2="-8.2" stroke="#000" stroke-width="2.3"/><text transform="scale(1.2,1)" x="-1.4" y="0" font-family="Liberation Mono" font-size="25" text-anchor="middle" stroke="#000" stroke-width="0.2">3</text><text transform="scale(1.2,1)" x="9.6 20.6" y="0" font-family="Liberation Sans" font-size="23.9" text-anchor="middle" stroke="#000" stroke-width="0.2">00</text></g>
<g transform="translate(1781.6,2399)"><line x1="-30.4" y1="-8.2" x2="-8.8" y2="-8.2" stroke="#000" stroke-width="2.3"/><text transform="scale(1.2,1)" x="-1.4" y="0" font-family="Liberation Mono" font-size="25" text-anchor="middle" stroke="#000" stroke-width="0.2">5</text><text transform="scale(1.2,1)" x="9.6 20.6" y="0" font-family="Liberation Sans" font-size="23.9" text-anchor="middle" stroke="#000" stroke-width="0.2">00</text></g>
<g transform="translate(1863.7,2399)"><line x1="-37" y1="-8.2" x2="-15.4" y2="-8.2" stroke="#000" stroke-width="2.3"/><text transform="scale(1.2,1)" x="-6.9" y="0" font-family="Liberation Mono" font-size="25" text-anchor="middle" stroke="#000" stroke-width="0.2">1</text><text transform="scale(1.2,1)" x="4.1 15.1 26.1" y="0" font-family="Liberation Sans" font-size="23.9" text-anchor="middle" stroke="#000" stroke-width="0.2">000</text></g>
<g transform="translate(1330,2451)"><text x="5.2 36.2 72.5 108.9 146.6 183" y="-2.8" font-family="'Liberation Sans','Noto Sans CJK JP',sans-serif" font-size="23" font-weight="bold">コレクタ電流</text></g>
<g transform="translate(1601.2,2447)"><text transform="scale(1.2,1)" x="0" y="0" font-family="Liberation Mono" font-size="24.3" text-anchor="middle" stroke="#000" stroke-width="0.2">I</text></g>
<g transform="translate(1619.5,2457)"><text transform="scale(1.2,1)" x="0" y="0" font-family="Liberation Mono" font-size="22" text-anchor="middle" stroke="#000" stroke-width="0.2">C</text></g>
<g transform="translate(1642,2447)"><text transform="scale(1.2,1)" x="9.4 28.1 46.9 65.6" y="0" font-family="Liberation Mono" font-size="24.3" text-anchor="middle" stroke="#000" stroke-width="0.2">(mA)</text></g>
<g transform="translate(1092,2292) rotate(-90)"><text x="2 22 45.4 69.4 96.5 124.2 149.2 174.7 200.8 233" y="-2.9" font-family="'Liberation Sans','Noto Sans CJK JP',sans-serif" font-size="24" font-weight="bold">トランジション周波数</text></g>
<g transform="translate(1088,1978.8) rotate(-90)"><text transform="scale(1.2,1)" x="0" y="0" font-family="Liberation Mono" font-size="22.2" text-anchor="middle" stroke="#000" stroke-width="0.2">f</text></g>
<g transform="translate(1097.5,1957) rotate(-90)"><text transform="scale(1.2,1)" x="0" y="0" font-family="Liberation Mono" font-size="28.8" text-anchor="middle" stroke="#000" stroke-width="0.2">T</text></g>
<g transform="translate(1089,1921.6) rotate(-90)"><text transform="scale(1.2,1)" x="7.8 23.5 39.2 54.8 70.5" y="0" font-family="Liberation Mono" font-size="24.3" text-anchor="middle" stroke="#000" stroke-width="0.2">(MHz)</text></g>
</svg></body></html>
